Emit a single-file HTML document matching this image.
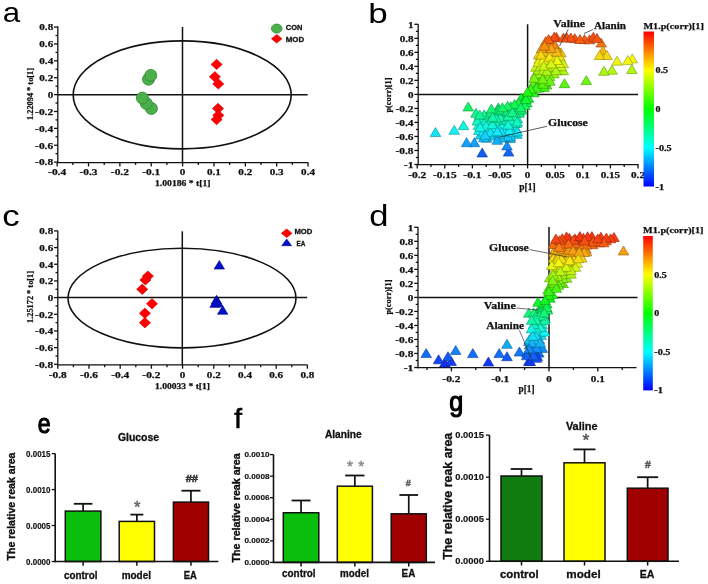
<!DOCTYPE html>
<html><head><meta charset="utf-8"><style>
html,body{margin:0;padding:0;background:#fff;width:708px;height:584px;overflow:hidden}
svg{display:block;filter:blur(0.5px)}
</style></head><body>
<svg width="708" height="584" viewBox="0 0 708 584">
<rect width="708" height="584" fill="#fff"/>
<text transform="translate(2.84,22.34) scale(1.097,1)" x="0" y="0" style="font-family:'Liberation Sans',sans-serif;font-size:28.52px" fill="#000">a</text>
<line x1="57.80" y1="26.20" x2="57.80" y2="163.25" stroke="#111" stroke-width="1.3"/>
<line x1="57.15" y1="162.60" x2="308.20" y2="162.60" stroke="#111" stroke-width="1.3"/>
<line x1="54.00" y1="162.12" x2="57.80" y2="162.12" stroke="#111" stroke-width="1.3"/>
<text x="44.17" y="165.42" style="font-family:'Liberation Serif',serif;font-weight:bold;stroke:#111;stroke-width:0.25px;font-size:8.8px" text-anchor="middle" fill="#111" textLength="18.06" lengthAdjust="spacingAndGlyphs" >-0.8</text>
<line x1="54.00" y1="145.24" x2="57.80" y2="145.24" stroke="#111" stroke-width="1.3"/>
<text x="44.17" y="148.54" style="font-family:'Liberation Serif',serif;font-weight:bold;stroke:#111;stroke-width:0.25px;font-size:8.8px" text-anchor="middle" fill="#111" textLength="18.06" lengthAdjust="spacingAndGlyphs" >-0.6</text>
<line x1="54.00" y1="128.36" x2="57.80" y2="128.36" stroke="#111" stroke-width="1.3"/>
<text x="44.17" y="131.66" style="font-family:'Liberation Serif',serif;font-weight:bold;stroke:#111;stroke-width:0.25px;font-size:8.8px" text-anchor="middle" fill="#111" textLength="18.06" lengthAdjust="spacingAndGlyphs" >-0.4</text>
<line x1="54.00" y1="111.48" x2="57.80" y2="111.48" stroke="#111" stroke-width="1.3"/>
<text x="44.17" y="114.78" style="font-family:'Liberation Serif',serif;font-weight:bold;stroke:#111;stroke-width:0.25px;font-size:8.8px" text-anchor="middle" fill="#111" textLength="18.06" lengthAdjust="spacingAndGlyphs" >-0.2</text>
<line x1="54.00" y1="94.60" x2="57.80" y2="94.60" stroke="#111" stroke-width="1.3"/>
<text x="50.42" y="97.90" style="font-family:'Liberation Serif',serif;font-weight:bold;stroke:#111;stroke-width:0.25px;font-size:8.8px" text-anchor="middle" fill="#111" textLength="5.55" lengthAdjust="spacingAndGlyphs" >0</text>
<line x1="54.00" y1="77.72" x2="57.80" y2="77.72" stroke="#111" stroke-width="1.3"/>
<text x="46.25" y="81.02" style="font-family:'Liberation Serif',serif;font-weight:bold;stroke:#111;stroke-width:0.25px;font-size:8.8px" text-anchor="middle" fill="#111" textLength="13.90" lengthAdjust="spacingAndGlyphs" >0.2</text>
<line x1="54.00" y1="60.84" x2="57.80" y2="60.84" stroke="#111" stroke-width="1.3"/>
<text x="46.25" y="64.14" style="font-family:'Liberation Serif',serif;font-weight:bold;stroke:#111;stroke-width:0.25px;font-size:8.8px" text-anchor="middle" fill="#111" textLength="13.90" lengthAdjust="spacingAndGlyphs" >0.4</text>
<line x1="54.00" y1="43.96" x2="57.80" y2="43.96" stroke="#111" stroke-width="1.3"/>
<text x="46.25" y="47.26" style="font-family:'Liberation Serif',serif;font-weight:bold;stroke:#111;stroke-width:0.25px;font-size:8.8px" text-anchor="middle" fill="#111" textLength="13.90" lengthAdjust="spacingAndGlyphs" >0.6</text>
<line x1="54.00" y1="27.08" x2="57.80" y2="27.08" stroke="#111" stroke-width="1.3"/>
<text x="46.25" y="30.38" style="font-family:'Liberation Serif',serif;font-weight:bold;stroke:#111;stroke-width:0.25px;font-size:8.8px" text-anchor="middle" fill="#111" textLength="13.90" lengthAdjust="spacingAndGlyphs" >0.8</text>
<line x1="55.50" y1="153.68" x2="57.80" y2="153.68" stroke="#111" stroke-width="1.3"/>
<line x1="55.50" y1="136.80" x2="57.80" y2="136.80" stroke="#111" stroke-width="1.3"/>
<line x1="55.50" y1="119.92" x2="57.80" y2="119.92" stroke="#111" stroke-width="1.3"/>
<line x1="55.50" y1="103.04" x2="57.80" y2="103.04" stroke="#111" stroke-width="1.3"/>
<line x1="55.50" y1="86.16" x2="57.80" y2="86.16" stroke="#111" stroke-width="1.3"/>
<line x1="55.50" y1="69.28" x2="57.80" y2="69.28" stroke="#111" stroke-width="1.3"/>
<line x1="55.50" y1="52.40" x2="57.80" y2="52.40" stroke="#111" stroke-width="1.3"/>
<line x1="55.50" y1="35.52" x2="57.80" y2="35.52" stroke="#111" stroke-width="1.3"/>
<line x1="57.16" y1="162.60" x2="57.16" y2="166.40" stroke="#111" stroke-width="1.3"/>
<text x="57.16" y="175.00" style="font-family:'Liberation Serif',serif;font-weight:bold;stroke:#111;stroke-width:0.25px;font-size:8.8px" text-anchor="middle" fill="#111" textLength="18.06" lengthAdjust="spacingAndGlyphs" >-0.4</text>
<line x1="88.52" y1="162.60" x2="88.52" y2="166.40" stroke="#111" stroke-width="1.3"/>
<text x="88.52" y="175.00" style="font-family:'Liberation Serif',serif;font-weight:bold;stroke:#111;stroke-width:0.25px;font-size:8.8px" text-anchor="middle" fill="#111" textLength="18.06" lengthAdjust="spacingAndGlyphs" >-0.3</text>
<line x1="119.88" y1="162.60" x2="119.88" y2="166.40" stroke="#111" stroke-width="1.3"/>
<text x="119.88" y="175.00" style="font-family:'Liberation Serif',serif;font-weight:bold;stroke:#111;stroke-width:0.25px;font-size:8.8px" text-anchor="middle" fill="#111" textLength="18.06" lengthAdjust="spacingAndGlyphs" >-0.2</text>
<line x1="151.24" y1="162.60" x2="151.24" y2="166.40" stroke="#111" stroke-width="1.3"/>
<text x="151.24" y="175.00" style="font-family:'Liberation Serif',serif;font-weight:bold;stroke:#111;stroke-width:0.25px;font-size:8.8px" text-anchor="middle" fill="#111" textLength="18.06" lengthAdjust="spacingAndGlyphs" >-0.1</text>
<line x1="182.60" y1="162.60" x2="182.60" y2="166.40" stroke="#111" stroke-width="1.3"/>
<text x="182.60" y="175.00" style="font-family:'Liberation Serif',serif;font-weight:bold;stroke:#111;stroke-width:0.25px;font-size:8.8px" text-anchor="middle" fill="#111" textLength="5.55" lengthAdjust="spacingAndGlyphs" >0</text>
<line x1="213.96" y1="162.60" x2="213.96" y2="166.40" stroke="#111" stroke-width="1.3"/>
<text x="213.96" y="175.00" style="font-family:'Liberation Serif',serif;font-weight:bold;stroke:#111;stroke-width:0.25px;font-size:8.8px" text-anchor="middle" fill="#111" textLength="13.90" lengthAdjust="spacingAndGlyphs" >0.1</text>
<line x1="245.32" y1="162.60" x2="245.32" y2="166.40" stroke="#111" stroke-width="1.3"/>
<text x="245.32" y="175.00" style="font-family:'Liberation Serif',serif;font-weight:bold;stroke:#111;stroke-width:0.25px;font-size:8.8px" text-anchor="middle" fill="#111" textLength="13.90" lengthAdjust="spacingAndGlyphs" >0.2</text>
<line x1="276.68" y1="162.60" x2="276.68" y2="166.40" stroke="#111" stroke-width="1.3"/>
<text x="276.68" y="175.00" style="font-family:'Liberation Serif',serif;font-weight:bold;stroke:#111;stroke-width:0.25px;font-size:8.8px" text-anchor="middle" fill="#111" textLength="13.90" lengthAdjust="spacingAndGlyphs" >0.3</text>
<line x1="308.04" y1="162.60" x2="308.04" y2="166.40" stroke="#111" stroke-width="1.3"/>
<text x="308.04" y="175.00" style="font-family:'Liberation Serif',serif;font-weight:bold;stroke:#111;stroke-width:0.25px;font-size:8.8px" text-anchor="middle" fill="#111" textLength="13.90" lengthAdjust="spacingAndGlyphs" >0.4</text>
<line x1="72.84" y1="162.60" x2="72.84" y2="164.90" stroke="#111" stroke-width="1.3"/>
<line x1="104.20" y1="162.60" x2="104.20" y2="164.90" stroke="#111" stroke-width="1.3"/>
<line x1="135.56" y1="162.60" x2="135.56" y2="164.90" stroke="#111" stroke-width="1.3"/>
<line x1="166.92" y1="162.60" x2="166.92" y2="164.90" stroke="#111" stroke-width="1.3"/>
<line x1="198.28" y1="162.60" x2="198.28" y2="164.90" stroke="#111" stroke-width="1.3"/>
<line x1="229.64" y1="162.60" x2="229.64" y2="164.90" stroke="#111" stroke-width="1.3"/>
<line x1="261.00" y1="162.60" x2="261.00" y2="164.90" stroke="#111" stroke-width="1.3"/>
<line x1="292.36" y1="162.60" x2="292.36" y2="164.90" stroke="#111" stroke-width="1.3"/>
<text x="182.80" y="186.40" style="font-family:'Liberation Serif',serif;font-weight:bold;stroke:#111;stroke-width:0.25px;font-size:8.5px" text-anchor="middle" fill="#111" textLength="55.60" lengthAdjust="spacingAndGlyphs" >1.00186 * t[1]</text>
<text transform="translate(30.40,94.00) rotate(-90)" x="0" y="0" style="font-family:'Liberation Serif',serif;font-weight:bold;stroke:#111;stroke-width:0.25px;font-size:8.5px" text-anchor="middle" dominant-baseline="central" fill="#111" textLength="52.00" lengthAdjust="spacingAndGlyphs">1.22094 * to[1]</text>
<line x1="57.80" y1="94.70" x2="307.70" y2="94.70" stroke="#111" stroke-width="1.5"/>
<line x1="182.50" y1="27.00" x2="182.50" y2="162.60" stroke="#111" stroke-width="1.5"/>
<ellipse cx="182.2" cy="94.9" rx="109" ry="54" fill="none" stroke="#111" stroke-width="1.6"/>
<circle cx="151.40" cy="108.50" r="6" fill="#4bb04b" stroke="#2f8a2f" stroke-width="0.8"/>
<circle cx="146.30" cy="103.40" r="6" fill="#4bb04b" stroke="#2f8a2f" stroke-width="0.8"/>
<circle cx="142.40" cy="98.00" r="6" fill="#4bb04b" stroke="#2f8a2f" stroke-width="0.8"/>
<circle cx="148.50" cy="79.20" r="6" fill="#4bb04b" stroke="#2f8a2f" stroke-width="0.8"/>
<circle cx="150.80" cy="75.40" r="6" fill="#4bb04b" stroke="#2f8a2f" stroke-width="0.8"/>
<polygon points="216.60,59.20 222.20,64.40 216.60,69.60 211.00,64.40" fill="#f00" stroke="#c00" stroke-width="0.6"/>
<polygon points="214.90,71.60 220.50,76.80 214.90,82.00 209.30,76.80" fill="#f00" stroke="#c00" stroke-width="0.6"/>
<polygon points="218.30,78.70 223.90,83.90 218.30,89.10 212.70,83.90" fill="#f00" stroke="#c00" stroke-width="0.6"/>
<polygon points="218.00,103.30 223.60,108.50 218.00,113.70 212.40,108.50" fill="#f00" stroke="#c00" stroke-width="0.6"/>
<polygon points="218.30,110.10 223.90,115.30 218.30,120.50 212.70,115.30" fill="#f00" stroke="#c00" stroke-width="0.6"/>
<polygon points="216.60,114.30 222.20,119.50 216.60,124.70 211.00,119.50" fill="#f00" stroke="#c00" stroke-width="0.6"/>
<ellipse cx="276.7" cy="28.6" rx="5.3" ry="4.5" fill="#4bb04b" stroke="#2f8a2f" stroke-width="0.8"/>
<polygon points="276.70,34.50 282.00,38.80 276.70,43.10 271.40,38.80" fill="#f00" stroke="#c00" stroke-width="0.6"/>
<text x="294.10" y="30.20" style="font-family:'Liberation Sans',sans-serif;font-weight:bold;stroke:#111;stroke-width:0.3px;font-size:7.8px" text-anchor="middle" fill="#111" textLength="16.60" lengthAdjust="spacingAndGlyphs" >CON</text>
<text x="295.00" y="41.50" style="font-family:'Liberation Sans',sans-serif;font-weight:bold;stroke:#111;stroke-width:0.3px;font-size:7.8px" text-anchor="middle" fill="#111" textLength="18.40" lengthAdjust="spacingAndGlyphs" >MOD</text>
<text transform="translate(2.14,225.74) scale(1.182,1)" x="0" y="0" style="font-family:'Liberation Sans',sans-serif;font-size:29.43px" fill="#000">c</text>
<line x1="57.80" y1="230.70" x2="57.80" y2="365.55" stroke="#111" stroke-width="1.3"/>
<line x1="57.15" y1="364.90" x2="307.50" y2="364.90" stroke="#111" stroke-width="1.3"/>
<line x1="54.00" y1="364.32" x2="57.80" y2="364.32" stroke="#111" stroke-width="1.3"/>
<text x="44.17" y="367.62" style="font-family:'Liberation Serif',serif;font-weight:bold;stroke:#111;stroke-width:0.25px;font-size:8.8px" text-anchor="middle" fill="#111" textLength="18.06" lengthAdjust="spacingAndGlyphs" >-0.8</text>
<line x1="54.00" y1="347.64" x2="57.80" y2="347.64" stroke="#111" stroke-width="1.3"/>
<text x="44.17" y="350.94" style="font-family:'Liberation Serif',serif;font-weight:bold;stroke:#111;stroke-width:0.25px;font-size:8.8px" text-anchor="middle" fill="#111" textLength="18.06" lengthAdjust="spacingAndGlyphs" >-0.6</text>
<line x1="54.00" y1="330.96" x2="57.80" y2="330.96" stroke="#111" stroke-width="1.3"/>
<text x="44.17" y="334.26" style="font-family:'Liberation Serif',serif;font-weight:bold;stroke:#111;stroke-width:0.25px;font-size:8.8px" text-anchor="middle" fill="#111" textLength="18.06" lengthAdjust="spacingAndGlyphs" >-0.4</text>
<line x1="54.00" y1="314.28" x2="57.80" y2="314.28" stroke="#111" stroke-width="1.3"/>
<text x="44.17" y="317.58" style="font-family:'Liberation Serif',serif;font-weight:bold;stroke:#111;stroke-width:0.25px;font-size:8.8px" text-anchor="middle" fill="#111" textLength="18.06" lengthAdjust="spacingAndGlyphs" >-0.2</text>
<line x1="54.00" y1="297.60" x2="57.80" y2="297.60" stroke="#111" stroke-width="1.3"/>
<text x="50.42" y="300.90" style="font-family:'Liberation Serif',serif;font-weight:bold;stroke:#111;stroke-width:0.25px;font-size:8.8px" text-anchor="middle" fill="#111" textLength="5.55" lengthAdjust="spacingAndGlyphs" >0</text>
<line x1="54.00" y1="280.92" x2="57.80" y2="280.92" stroke="#111" stroke-width="1.3"/>
<text x="46.25" y="284.22" style="font-family:'Liberation Serif',serif;font-weight:bold;stroke:#111;stroke-width:0.25px;font-size:8.8px" text-anchor="middle" fill="#111" textLength="13.90" lengthAdjust="spacingAndGlyphs" >0.2</text>
<line x1="54.00" y1="264.24" x2="57.80" y2="264.24" stroke="#111" stroke-width="1.3"/>
<text x="46.25" y="267.54" style="font-family:'Liberation Serif',serif;font-weight:bold;stroke:#111;stroke-width:0.25px;font-size:8.8px" text-anchor="middle" fill="#111" textLength="13.90" lengthAdjust="spacingAndGlyphs" >0.4</text>
<line x1="54.00" y1="247.56" x2="57.80" y2="247.56" stroke="#111" stroke-width="1.3"/>
<text x="46.25" y="250.86" style="font-family:'Liberation Serif',serif;font-weight:bold;stroke:#111;stroke-width:0.25px;font-size:8.8px" text-anchor="middle" fill="#111" textLength="13.90" lengthAdjust="spacingAndGlyphs" >0.6</text>
<line x1="54.00" y1="230.88" x2="57.80" y2="230.88" stroke="#111" stroke-width="1.3"/>
<text x="46.25" y="234.18" style="font-family:'Liberation Serif',serif;font-weight:bold;stroke:#111;stroke-width:0.25px;font-size:8.8px" text-anchor="middle" fill="#111" textLength="13.90" lengthAdjust="spacingAndGlyphs" >0.8</text>
<line x1="55.50" y1="355.98" x2="57.80" y2="355.98" stroke="#111" stroke-width="1.3"/>
<line x1="55.50" y1="339.30" x2="57.80" y2="339.30" stroke="#111" stroke-width="1.3"/>
<line x1="55.50" y1="322.62" x2="57.80" y2="322.62" stroke="#111" stroke-width="1.3"/>
<line x1="55.50" y1="305.94" x2="57.80" y2="305.94" stroke="#111" stroke-width="1.3"/>
<line x1="55.50" y1="289.26" x2="57.80" y2="289.26" stroke="#111" stroke-width="1.3"/>
<line x1="55.50" y1="272.58" x2="57.80" y2="272.58" stroke="#111" stroke-width="1.3"/>
<line x1="55.50" y1="255.90" x2="57.80" y2="255.90" stroke="#111" stroke-width="1.3"/>
<line x1="55.50" y1="239.22" x2="57.80" y2="239.22" stroke="#111" stroke-width="1.3"/>
<line x1="57.80" y1="364.90" x2="57.80" y2="368.70" stroke="#111" stroke-width="1.3"/>
<text x="57.80" y="377.90" style="font-family:'Liberation Serif',serif;font-weight:bold;stroke:#111;stroke-width:0.25px;font-size:8.8px" text-anchor="middle" fill="#111" textLength="18.06" lengthAdjust="spacingAndGlyphs" >-0.8</text>
<line x1="89.00" y1="364.90" x2="89.00" y2="368.70" stroke="#111" stroke-width="1.3"/>
<text x="89.00" y="377.90" style="font-family:'Liberation Serif',serif;font-weight:bold;stroke:#111;stroke-width:0.25px;font-size:8.8px" text-anchor="middle" fill="#111" textLength="18.06" lengthAdjust="spacingAndGlyphs" >-0.6</text>
<line x1="120.20" y1="364.90" x2="120.20" y2="368.70" stroke="#111" stroke-width="1.3"/>
<text x="120.20" y="377.90" style="font-family:'Liberation Serif',serif;font-weight:bold;stroke:#111;stroke-width:0.25px;font-size:8.8px" text-anchor="middle" fill="#111" textLength="18.06" lengthAdjust="spacingAndGlyphs" >-0.4</text>
<line x1="151.40" y1="364.90" x2="151.40" y2="368.70" stroke="#111" stroke-width="1.3"/>
<text x="151.40" y="377.90" style="font-family:'Liberation Serif',serif;font-weight:bold;stroke:#111;stroke-width:0.25px;font-size:8.8px" text-anchor="middle" fill="#111" textLength="18.06" lengthAdjust="spacingAndGlyphs" >-0.2</text>
<line x1="182.60" y1="364.90" x2="182.60" y2="368.70" stroke="#111" stroke-width="1.3"/>
<text x="182.60" y="377.90" style="font-family:'Liberation Serif',serif;font-weight:bold;stroke:#111;stroke-width:0.25px;font-size:8.8px" text-anchor="middle" fill="#111" textLength="5.55" lengthAdjust="spacingAndGlyphs" >0</text>
<line x1="213.80" y1="364.90" x2="213.80" y2="368.70" stroke="#111" stroke-width="1.3"/>
<text x="213.80" y="377.90" style="font-family:'Liberation Serif',serif;font-weight:bold;stroke:#111;stroke-width:0.25px;font-size:8.8px" text-anchor="middle" fill="#111" textLength="13.90" lengthAdjust="spacingAndGlyphs" >0.2</text>
<line x1="245.00" y1="364.90" x2="245.00" y2="368.70" stroke="#111" stroke-width="1.3"/>
<text x="245.00" y="377.90" style="font-family:'Liberation Serif',serif;font-weight:bold;stroke:#111;stroke-width:0.25px;font-size:8.8px" text-anchor="middle" fill="#111" textLength="13.90" lengthAdjust="spacingAndGlyphs" >0.4</text>
<line x1="276.20" y1="364.90" x2="276.20" y2="368.70" stroke="#111" stroke-width="1.3"/>
<text x="276.20" y="377.90" style="font-family:'Liberation Serif',serif;font-weight:bold;stroke:#111;stroke-width:0.25px;font-size:8.8px" text-anchor="middle" fill="#111" textLength="13.90" lengthAdjust="spacingAndGlyphs" >0.6</text>
<line x1="307.40" y1="364.90" x2="307.40" y2="368.70" stroke="#111" stroke-width="1.3"/>
<text x="307.40" y="377.90" style="font-family:'Liberation Serif',serif;font-weight:bold;stroke:#111;stroke-width:0.25px;font-size:8.8px" text-anchor="middle" fill="#111" textLength="13.90" lengthAdjust="spacingAndGlyphs" >0.8</text>
<line x1="73.40" y1="364.90" x2="73.40" y2="367.20" stroke="#111" stroke-width="1.3"/>
<line x1="104.60" y1="364.90" x2="104.60" y2="367.20" stroke="#111" stroke-width="1.3"/>
<line x1="135.80" y1="364.90" x2="135.80" y2="367.20" stroke="#111" stroke-width="1.3"/>
<line x1="167.00" y1="364.90" x2="167.00" y2="367.20" stroke="#111" stroke-width="1.3"/>
<line x1="198.20" y1="364.90" x2="198.20" y2="367.20" stroke="#111" stroke-width="1.3"/>
<line x1="229.40" y1="364.90" x2="229.40" y2="367.20" stroke="#111" stroke-width="1.3"/>
<line x1="260.60" y1="364.90" x2="260.60" y2="367.20" stroke="#111" stroke-width="1.3"/>
<line x1="291.80" y1="364.90" x2="291.80" y2="367.20" stroke="#111" stroke-width="1.3"/>
<text x="182.50" y="389.00" style="font-family:'Liberation Serif',serif;font-weight:bold;stroke:#111;stroke-width:0.25px;font-size:8.5px" text-anchor="middle" fill="#111" textLength="55.00" lengthAdjust="spacingAndGlyphs" >1.00033 * t[1]</text>
<text transform="translate(30.40,297.00) rotate(-90)" x="0" y="0" style="font-family:'Liberation Serif',serif;font-weight:bold;stroke:#111;stroke-width:0.25px;font-size:8.5px" text-anchor="middle" dominant-baseline="central" fill="#111" textLength="52.00" lengthAdjust="spacingAndGlyphs">1.25172 * to[1]</text>
<line x1="57.80" y1="297.60" x2="307.20" y2="297.60" stroke="#111" stroke-width="1.5"/>
<line x1="182.30" y1="231.30" x2="182.30" y2="365.20" stroke="#111" stroke-width="1.5"/>
<ellipse cx="182" cy="298.1" rx="114" ry="49.8" fill="none" stroke="#111" stroke-width="1.6"/>
<polygon points="147.90,270.90 153.50,276.10 147.90,281.30 142.30,276.10" fill="#f00" stroke="#c00" stroke-width="0.6"/>
<polygon points="145.40,274.70 151.00,279.90 145.40,285.10 139.80,279.90" fill="#f00" stroke="#c00" stroke-width="0.6"/>
<polygon points="142.20,284.10 147.80,289.30 142.20,294.50 136.60,289.30" fill="#f00" stroke="#c00" stroke-width="0.6"/>
<polygon points="152.00,298.60 157.60,303.80 152.00,309.00 146.40,303.80" fill="#f00" stroke="#c00" stroke-width="0.6"/>
<polygon points="144.90,308.10 150.50,313.30 144.90,318.50 139.30,313.30" fill="#f00" stroke="#c00" stroke-width="0.6"/>
<polygon points="144.90,317.50 150.50,322.70 144.90,327.90 139.30,322.70" fill="#f00" stroke="#c00" stroke-width="0.6"/>
<polygon points="219.30,260.47 224.50,269.07 214.10,269.07" fill="#0010c8" stroke="#000080" stroke-width="0.6"/>
<polygon points="216.50,295.27 221.70,303.87 211.30,303.87" fill="#0010c8" stroke="#000080" stroke-width="0.6"/>
<polygon points="218.00,298.27 223.20,306.87 212.80,306.87" fill="#0010c8" stroke="#000080" stroke-width="0.6"/>
<polygon points="215.00,298.77 220.20,307.37 209.80,307.37" fill="#0010c8" stroke="#000080" stroke-width="0.6"/>
<polygon points="222.70,305.67 227.90,314.27 217.50,314.27" fill="#0010c8" stroke="#000080" stroke-width="0.6"/>
<polygon points="286.70,229.00 292.00,233.30 286.70,237.60 281.40,233.30" fill="#f00" stroke="#c00" stroke-width="0.6"/>
<polygon points="286.7,239 291.6,245.7 281.7,245.7" fill="#0010c8" stroke="#000080" stroke-width="0.6"/>
<text x="303.40" y="233.50" style="font-family:'Liberation Sans',sans-serif;font-weight:bold;stroke:#111;stroke-width:0.3px;font-size:7.8px" text-anchor="middle" fill="#111" textLength="18.00" lengthAdjust="spacingAndGlyphs" >MOD</text>
<text x="300.95" y="245.90" style="font-family:'Liberation Sans',sans-serif;font-weight:bold;stroke:#111;stroke-width:0.3px;font-size:7.8px" text-anchor="middle" fill="#111" textLength="8.90" lengthAdjust="spacingAndGlyphs" >EA</text>
<text transform="translate(368.32,23.14) scale(1.237,1)" x="0" y="0" style="font-family:'Liberation Sans',sans-serif;font-size:28.34px" fill="#000">b</text>
<line x1="418.20" y1="24.30" x2="418.20" y2="165.25" stroke="#111" stroke-width="1.3"/>
<line x1="417.55" y1="164.60" x2="638.50" y2="164.60" stroke="#111" stroke-width="1.3"/>
<line x1="414.40" y1="164.50" x2="418.20" y2="164.50" stroke="#111" stroke-width="1.3"/>
<text x="408.74" y="167.80" style="font-family:'Liberation Serif',serif;font-weight:bold;stroke:#111;stroke-width:0.25px;font-size:8.8px" text-anchor="middle" fill="#111" textLength="9.71" lengthAdjust="spacingAndGlyphs" >-1</text>
<line x1="414.40" y1="150.48" x2="418.20" y2="150.48" stroke="#111" stroke-width="1.3"/>
<text x="404.57" y="153.78" style="font-family:'Liberation Serif',serif;font-weight:bold;stroke:#111;stroke-width:0.25px;font-size:8.8px" text-anchor="middle" fill="#111" textLength="18.06" lengthAdjust="spacingAndGlyphs" >-0.8</text>
<line x1="414.40" y1="136.46" x2="418.20" y2="136.46" stroke="#111" stroke-width="1.3"/>
<text x="404.57" y="139.76" style="font-family:'Liberation Serif',serif;font-weight:bold;stroke:#111;stroke-width:0.25px;font-size:8.8px" text-anchor="middle" fill="#111" textLength="18.06" lengthAdjust="spacingAndGlyphs" >-0.6</text>
<line x1="414.40" y1="122.44" x2="418.20" y2="122.44" stroke="#111" stroke-width="1.3"/>
<text x="404.57" y="125.74" style="font-family:'Liberation Serif',serif;font-weight:bold;stroke:#111;stroke-width:0.25px;font-size:8.8px" text-anchor="middle" fill="#111" textLength="18.06" lengthAdjust="spacingAndGlyphs" >-0.4</text>
<line x1="414.40" y1="108.42" x2="418.20" y2="108.42" stroke="#111" stroke-width="1.3"/>
<text x="404.57" y="111.72" style="font-family:'Liberation Serif',serif;font-weight:bold;stroke:#111;stroke-width:0.25px;font-size:8.8px" text-anchor="middle" fill="#111" textLength="18.06" lengthAdjust="spacingAndGlyphs" >-0.2</text>
<line x1="414.40" y1="94.40" x2="418.20" y2="94.40" stroke="#111" stroke-width="1.3"/>
<text x="410.82" y="97.70" style="font-family:'Liberation Serif',serif;font-weight:bold;stroke:#111;stroke-width:0.25px;font-size:8.8px" text-anchor="middle" fill="#111" textLength="5.55" lengthAdjust="spacingAndGlyphs" >0</text>
<line x1="414.40" y1="80.38" x2="418.20" y2="80.38" stroke="#111" stroke-width="1.3"/>
<text x="406.65" y="83.68" style="font-family:'Liberation Serif',serif;font-weight:bold;stroke:#111;stroke-width:0.25px;font-size:8.8px" text-anchor="middle" fill="#111" textLength="13.90" lengthAdjust="spacingAndGlyphs" >0.2</text>
<line x1="414.40" y1="66.36" x2="418.20" y2="66.36" stroke="#111" stroke-width="1.3"/>
<text x="406.65" y="69.66" style="font-family:'Liberation Serif',serif;font-weight:bold;stroke:#111;stroke-width:0.25px;font-size:8.8px" text-anchor="middle" fill="#111" textLength="13.90" lengthAdjust="spacingAndGlyphs" >0.4</text>
<line x1="414.40" y1="52.34" x2="418.20" y2="52.34" stroke="#111" stroke-width="1.3"/>
<text x="406.65" y="55.64" style="font-family:'Liberation Serif',serif;font-weight:bold;stroke:#111;stroke-width:0.25px;font-size:8.8px" text-anchor="middle" fill="#111" textLength="13.90" lengthAdjust="spacingAndGlyphs" >0.6</text>
<line x1="414.40" y1="38.32" x2="418.20" y2="38.32" stroke="#111" stroke-width="1.3"/>
<text x="406.65" y="41.62" style="font-family:'Liberation Serif',serif;font-weight:bold;stroke:#111;stroke-width:0.25px;font-size:8.8px" text-anchor="middle" fill="#111" textLength="13.90" lengthAdjust="spacingAndGlyphs" >0.8</text>
<line x1="414.40" y1="24.30" x2="418.20" y2="24.30" stroke="#111" stroke-width="1.3"/>
<text x="410.82" y="27.60" style="font-family:'Liberation Serif',serif;font-weight:bold;stroke:#111;stroke-width:0.25px;font-size:8.8px" text-anchor="middle" fill="#111" textLength="5.55" lengthAdjust="spacingAndGlyphs" >1</text>
<line x1="415.90" y1="157.49" x2="418.20" y2="157.49" stroke="#111" stroke-width="1.3"/>
<line x1="415.90" y1="143.47" x2="418.20" y2="143.47" stroke="#111" stroke-width="1.3"/>
<line x1="415.90" y1="129.45" x2="418.20" y2="129.45" stroke="#111" stroke-width="1.3"/>
<line x1="415.90" y1="115.43" x2="418.20" y2="115.43" stroke="#111" stroke-width="1.3"/>
<line x1="415.90" y1="101.41" x2="418.20" y2="101.41" stroke="#111" stroke-width="1.3"/>
<line x1="415.90" y1="87.39" x2="418.20" y2="87.39" stroke="#111" stroke-width="1.3"/>
<line x1="415.90" y1="73.37" x2="418.20" y2="73.37" stroke="#111" stroke-width="1.3"/>
<line x1="415.90" y1="59.35" x2="418.20" y2="59.35" stroke="#111" stroke-width="1.3"/>
<line x1="415.90" y1="45.33" x2="418.20" y2="45.33" stroke="#111" stroke-width="1.3"/>
<line x1="415.90" y1="31.31" x2="418.20" y2="31.31" stroke="#111" stroke-width="1.3"/>
<line x1="417.20" y1="164.60" x2="417.20" y2="168.40" stroke="#111" stroke-width="1.3"/>
<text x="417.20" y="178.40" style="font-family:'Liberation Serif',serif;font-weight:bold;stroke:#111;stroke-width:0.25px;font-size:8.8px" text-anchor="middle" fill="#111" textLength="18.06" lengthAdjust="spacingAndGlyphs" >-0.2</text>
<line x1="444.80" y1="164.60" x2="444.80" y2="168.40" stroke="#111" stroke-width="1.3"/>
<text x="444.80" y="178.40" style="font-family:'Liberation Serif',serif;font-weight:bold;stroke:#111;stroke-width:0.25px;font-size:8.8px" text-anchor="middle" fill="#111" textLength="23.61" lengthAdjust="spacingAndGlyphs" >-0.15</text>
<line x1="472.40" y1="164.60" x2="472.40" y2="168.40" stroke="#111" stroke-width="1.3"/>
<text x="472.40" y="178.40" style="font-family:'Liberation Serif',serif;font-weight:bold;stroke:#111;stroke-width:0.25px;font-size:8.8px" text-anchor="middle" fill="#111" textLength="18.06" lengthAdjust="spacingAndGlyphs" >-0.1</text>
<line x1="500.00" y1="164.60" x2="500.00" y2="168.40" stroke="#111" stroke-width="1.3"/>
<text x="500.00" y="178.40" style="font-family:'Liberation Serif',serif;font-weight:bold;stroke:#111;stroke-width:0.25px;font-size:8.8px" text-anchor="middle" fill="#111" textLength="23.61" lengthAdjust="spacingAndGlyphs" >-0.05</text>
<line x1="527.60" y1="164.60" x2="527.60" y2="168.40" stroke="#111" stroke-width="1.3"/>
<text x="527.60" y="178.40" style="font-family:'Liberation Serif',serif;font-weight:bold;stroke:#111;stroke-width:0.25px;font-size:8.8px" text-anchor="middle" fill="#111" textLength="5.55" lengthAdjust="spacingAndGlyphs" >0</text>
<line x1="555.20" y1="164.60" x2="555.20" y2="168.40" stroke="#111" stroke-width="1.3"/>
<text x="555.20" y="178.40" style="font-family:'Liberation Serif',serif;font-weight:bold;stroke:#111;stroke-width:0.25px;font-size:8.8px" text-anchor="middle" fill="#111" textLength="19.45" lengthAdjust="spacingAndGlyphs" >0.05</text>
<line x1="582.80" y1="164.60" x2="582.80" y2="168.40" stroke="#111" stroke-width="1.3"/>
<text x="582.80" y="178.40" style="font-family:'Liberation Serif',serif;font-weight:bold;stroke:#111;stroke-width:0.25px;font-size:8.8px" text-anchor="middle" fill="#111" textLength="13.90" lengthAdjust="spacingAndGlyphs" >0.1</text>
<line x1="610.40" y1="164.60" x2="610.40" y2="168.40" stroke="#111" stroke-width="1.3"/>
<text x="610.40" y="178.40" style="font-family:'Liberation Serif',serif;font-weight:bold;stroke:#111;stroke-width:0.25px;font-size:8.8px" text-anchor="middle" fill="#111" textLength="19.45" lengthAdjust="spacingAndGlyphs" >0.15</text>
<line x1="638.00" y1="164.60" x2="638.00" y2="168.40" stroke="#111" stroke-width="1.3"/>
<text x="638.00" y="178.40" style="font-family:'Liberation Serif',serif;font-weight:bold;stroke:#111;stroke-width:0.25px;font-size:8.8px" text-anchor="middle" fill="#111" textLength="13.90" lengthAdjust="spacingAndGlyphs" >0.2</text>
<line x1="431.00" y1="164.60" x2="431.00" y2="166.90" stroke="#111" stroke-width="1.3"/>
<line x1="458.60" y1="164.60" x2="458.60" y2="166.90" stroke="#111" stroke-width="1.3"/>
<line x1="486.20" y1="164.60" x2="486.20" y2="166.90" stroke="#111" stroke-width="1.3"/>
<line x1="513.80" y1="164.60" x2="513.80" y2="166.90" stroke="#111" stroke-width="1.3"/>
<line x1="541.40" y1="164.60" x2="541.40" y2="166.90" stroke="#111" stroke-width="1.3"/>
<line x1="569.00" y1="164.60" x2="569.00" y2="166.90" stroke="#111" stroke-width="1.3"/>
<line x1="596.60" y1="164.60" x2="596.60" y2="166.90" stroke="#111" stroke-width="1.3"/>
<line x1="624.20" y1="164.60" x2="624.20" y2="166.90" stroke="#111" stroke-width="1.3"/>
<text x="527.45" y="189.50" style="font-family:'Liberation Serif',serif;font-weight:bold;stroke:#111;stroke-width:0.25px;font-size:10px" text-anchor="middle" fill="#111" textLength="16.30" lengthAdjust="spacingAndGlyphs" >p[1]</text>
<text transform="translate(388.00,95.00) rotate(-90)" x="0" y="0" style="font-family:'Liberation Serif',serif;font-weight:bold;stroke:#111;stroke-width:0.25px;font-size:9px" text-anchor="middle" dominant-baseline="central" fill="#111" textLength="35.00" lengthAdjust="spacingAndGlyphs">p(corr)[1]</text>
<line x1="418.20" y1="94.40" x2="638.00" y2="94.40" stroke="#111" stroke-width="1.5"/>
<line x1="527.60" y1="24.30" x2="527.60" y2="164.50" stroke="#111" stroke-width="1.5"/>
<polygon points="553.8,56.3 559.1,65.3 548.5,65.3" fill="#eaf713" stroke="#919907" stroke-width="0.6"/>
<polygon points="601.2,38.1 606.5,47.1 595.9,47.1" fill="#f77813" stroke="#994807" stroke-width="0.6"/>
<polygon points="500.5,120.2 505.8,129.2 495.2,129.2" fill="#13f7db" stroke="#079987" stroke-width="0.6"/>
<polygon points="559.9,65.6 565.2,74.6 554.6,74.6" fill="#aef713" stroke="#6a9907" stroke-width="0.6"/>
<polygon points="483.5,112.8 488.8,121.8 478.2,121.8" fill="#13f7ab" stroke="#079968" stroke-width="0.6"/>
<polygon points="545.8,42.8 551.1,51.8 540.5,51.8" fill="#f79d13" stroke="#995f07" stroke-width="0.6"/>
<polygon points="496.7,118.6 502.0,127.6 491.4,127.6" fill="#13f7d1" stroke="#079980" stroke-width="0.6"/>
<polygon points="505.0,113.5 510.3,122.5 499.7,122.5" fill="#13f7b0" stroke="#07996b" stroke-width="0.6"/>
<polygon points="476.0,108.3 481.3,117.3 470.7,117.3" fill="#13f78e" stroke="#079956" stroke-width="0.6"/>
<polygon points="486.5,133.2 491.8,142.2 481.2,142.2" fill="#13bef7" stroke="#077499" stroke-width="0.6"/>
<polygon points="631.8,64.6 637.1,73.6 626.5,73.6" fill="#b4f713" stroke="#6e9907" stroke-width="0.6"/>
<polygon points="497.3,108.0 502.6,117.0 492.0,117.0" fill="#13f78c" stroke="#079954" stroke-width="0.6"/>
<polygon points="505.1,118.7 510.4,127.7 499.8,127.7" fill="#13f7d1" stroke="#079981" stroke-width="0.6"/>
<polygon points="510.4,133.4 515.7,142.4 505.1,142.4" fill="#13bdf7" stroke="#077399" stroke-width="0.6"/>
<polygon points="488.5,130.2 493.8,139.2 483.2,139.2" fill="#13d2f7" stroke="#078199" stroke-width="0.6"/>
<polygon points="558.3,61.7 563.6,70.7 553.0,70.7" fill="#c7f713" stroke="#7a9907" stroke-width="0.6"/>
<polygon points="517.4,113.7 522.7,122.7 512.1,122.7" fill="#13f7b1" stroke="#07996c" stroke-width="0.6"/>
<polygon points="536.1,75.3 541.4,84.3 530.8,84.3" fill="#6ff713" stroke="#429907" stroke-width="0.6"/>
<polygon points="463.5,120.7 468.8,129.7 458.2,129.7" fill="#13f7df" stroke="#079989" stroke-width="0.6"/>
<polygon points="537.3,71.7 542.6,80.7 532.0,80.7" fill="#86f713" stroke="#519907" stroke-width="0.6"/>
<polygon points="551.3,35.9 556.6,44.9 546.0,44.9" fill="#f76713" stroke="#993d07" stroke-width="0.6"/>
<polygon points="560.9,47.9 566.2,56.9 555.6,56.9" fill="#f7c413" stroke="#997807" stroke-width="0.6"/>
<polygon points="480.5,130.1 485.8,139.1 475.2,139.1" fill="#13d2f7" stroke="#078199" stroke-width="0.6"/>
<polygon points="517.0,129.4 522.3,138.4 511.7,138.4" fill="#13d7f7" stroke="#078499" stroke-width="0.6"/>
<polygon points="508.6,147.1 513.9,156.1 503.3,156.1" fill="#1364f7" stroke="#073b99" stroke-width="0.6"/>
<polygon points="507.9,123.3 513.2,132.3 502.6,132.3" fill="#13f7ef" stroke="#079994" stroke-width="0.6"/>
<polygon points="521.3,93.1 526.6,102.1 516.0,102.1" fill="#13f72c" stroke="#079917" stroke-width="0.6"/>
<polygon points="545.2,69.0 550.5,78.0 539.9,78.0" fill="#98f713" stroke="#5c9907" stroke-width="0.6"/>
<polygon points="519.2,106.3 524.5,115.3 513.9,115.3" fill="#13f781" stroke="#07994d" stroke-width="0.6"/>
<polygon points="484.3,115.5 489.6,124.5 479.0,124.5" fill="#13f7bd" stroke="#079974" stroke-width="0.6"/>
<polygon points="535.4,69.7 540.7,78.7 530.1,78.7" fill="#93f713" stroke="#599907" stroke-width="0.6"/>
<polygon points="507.2,116.1 512.5,125.1 501.9,125.1" fill="#13f7c1" stroke="#079976" stroke-width="0.6"/>
<polygon points="495.0,108.6 500.3,117.6 489.7,117.6" fill="#13f790" stroke="#079957" stroke-width="0.6"/>
<polygon points="501.2,108.9 506.5,117.9 495.9,117.9" fill="#13f792" stroke="#079958" stroke-width="0.6"/>
<polygon points="533.8,87.8 539.1,96.8 528.5,96.8" fill="#1ef713" stroke="#0e9907" stroke-width="0.6"/>
<polygon points="468.2,102.0 473.5,111.0 462.9,111.0" fill="#13f765" stroke="#07993b" stroke-width="0.6"/>
<polygon points="519.2,108.2 524.5,117.2 513.9,117.2" fill="#13f78d" stroke="#079955" stroke-width="0.6"/>
<polygon points="549.5,66.5 554.8,75.5 544.2,75.5" fill="#a8f713" stroke="#669907" stroke-width="0.6"/>
<polygon points="485.2,122.6 490.5,131.6 479.9,131.6" fill="#13f7eb" stroke="#079991" stroke-width="0.6"/>
<polygon points="547.7,50.3 553.0,59.3 542.4,59.3" fill="#f7d813" stroke="#998507" stroke-width="0.6"/>
<polygon points="546.9,71.4 552.2,80.4 541.6,80.4" fill="#88f713" stroke="#529907" stroke-width="0.6"/>
<polygon points="513.5,105.1 518.8,114.1 508.2,114.1" fill="#13f779" stroke="#079948" stroke-width="0.6"/>
<polygon points="523.2,96.9 528.5,105.9 517.9,105.9" fill="#13f744" stroke="#079926" stroke-width="0.6"/>
<polygon points="515.5,101.3 520.8,110.3 510.2,110.3" fill="#13f761" stroke="#079939" stroke-width="0.6"/>
<polygon points="553.9,68.9 559.2,77.9 548.6,77.9" fill="#98f713" stroke="#5c9907" stroke-width="0.6"/>
<polygon points="561.7,56.0 567.0,65.0 556.4,65.0" fill="#ecf713" stroke="#929907" stroke-width="0.6"/>
<polygon points="526.4,90.9 531.7,99.9 521.1,99.9" fill="#13f71d" stroke="#07990e" stroke-width="0.6"/>
<polygon points="584.5,34.6 589.8,43.6 579.2,43.6" fill="#f75d13" stroke="#993607" stroke-width="0.6"/>
<polygon points="510.8,101.7 516.1,110.7 505.5,110.7" fill="#13f763" stroke="#07993a" stroke-width="0.6"/>
<polygon points="548.4,48.1 553.7,57.1 543.1,57.1" fill="#f7c613" stroke="#997a07" stroke-width="0.6"/>
<polygon points="507.9,103.8 513.2,112.8 502.6,112.8" fill="#13f771" stroke="#079943" stroke-width="0.6"/>
<polygon points="486.0,112.6 491.3,121.6 480.7,121.6" fill="#13f7aa" stroke="#079967" stroke-width="0.6"/>
<polygon points="490.2,123.6 495.5,132.6 484.9,132.6" fill="#13f7f1" stroke="#079995" stroke-width="0.6"/>
<polygon points="504.6,132.8 509.9,141.8 499.3,141.8" fill="#13c1f7" stroke="#077699" stroke-width="0.6"/>
<polygon points="589.5,34.8 594.8,43.8 584.2,43.8" fill="#f75e13" stroke="#993707" stroke-width="0.6"/>
<polygon points="454.2,125.3 459.5,134.3 448.9,134.3" fill="#13f1f7" stroke="#079599" stroke-width="0.6"/>
<polygon points="553.9,58.0 559.2,67.0 548.6,67.0" fill="#dff713" stroke="#899907" stroke-width="0.6"/>
<polygon points="554.3,52.3 559.6,61.3 549.0,61.3" fill="#f7e713" stroke="#998e07" stroke-width="0.6"/>
<polygon points="478.8,125.6 484.1,134.6 473.5,134.6" fill="#13eff7" stroke="#079499" stroke-width="0.6"/>
<polygon points="516.0,123.7 521.3,132.7 510.7,132.7" fill="#13f7f2" stroke="#079995" stroke-width="0.6"/>
<polygon points="538.8,80.4 544.1,89.4 533.5,89.4" fill="#4ef713" stroke="#2d9907" stroke-width="0.6"/>
<polygon points="541.0,59.5 546.3,68.5 535.7,68.5" fill="#d5f713" stroke="#839907" stroke-width="0.6"/>
<polygon points="603.0,46.0 608.3,55.0 597.7,55.0" fill="#f7b613" stroke="#996f07" stroke-width="0.6"/>
<polygon points="560.3,52.3 565.6,61.3 555.0,61.3" fill="#f7e713" stroke="#998e07" stroke-width="0.6"/>
<polygon points="526.9,97.9 532.2,106.9 521.6,106.9" fill="#13f74b" stroke="#07992a" stroke-width="0.6"/>
<polygon points="612.0,65.2 617.3,74.2 606.7,74.2" fill="#b0f713" stroke="#6c9907" stroke-width="0.6"/>
<polygon points="533.2,78.9 538.5,87.9 527.9,87.9" fill="#57f713" stroke="#339907" stroke-width="0.6"/>
<polygon points="574.8,33.6 580.1,42.6 569.5,42.6" fill="#f75513" stroke="#993107" stroke-width="0.6"/>
<polygon points="543.8,47.1 549.1,56.1 538.5,56.1" fill="#f7bf13" stroke="#997507" stroke-width="0.6"/>
<polygon points="547.8,70.5 553.1,79.5 542.5,79.5" fill="#8ef713" stroke="#569907" stroke-width="0.6"/>
<polygon points="506.7,110.0 512.0,119.0 501.4,119.0" fill="#13f799" stroke="#07995c" stroke-width="0.6"/>
<polygon points="556.3,42.7 561.6,51.7 551.0,51.7" fill="#f79c13" stroke="#995f07" stroke-width="0.6"/>
<polygon points="593.3,32.3 598.6,41.3 588.0,41.3" fill="#f74c13" stroke="#992c07" stroke-width="0.6"/>
<polygon points="553.5,47.3 558.8,56.3 548.2,56.3" fill="#f7c013" stroke="#997507" stroke-width="0.6"/>
<polygon points="498.3,123.1 503.6,132.1 493.0,132.1" fill="#13f7ee" stroke="#079993" stroke-width="0.6"/>
<polygon points="510.3,131.3 515.6,140.3 505.0,140.3" fill="#13caf7" stroke="#077c99" stroke-width="0.6"/>
<polygon points="546.0,58.1 551.3,67.1 540.7,67.1" fill="#dff713" stroke="#899907" stroke-width="0.6"/>
<polygon points="518.6,98.2 523.9,107.2 513.3,107.2" fill="#13f74c" stroke="#07992c" stroke-width="0.6"/>
<polygon points="539.2,77.5 544.5,86.5 533.9,86.5" fill="#60f713" stroke="#389907" stroke-width="0.6"/>
<polygon points="503.8,131.4 509.1,140.4 498.5,140.4" fill="#13caf7" stroke="#077c99" stroke-width="0.6"/>
<polygon points="528.6,93.3 533.9,102.3 523.3,102.3" fill="#13f72d" stroke="#079917" stroke-width="0.6"/>
<polygon points="507.6,131.9 512.9,140.9 502.3,140.9" fill="#13c6f7" stroke="#077999" stroke-width="0.6"/>
<polygon points="515.5,108.6 520.8,117.6 510.2,117.6" fill="#13f790" stroke="#079957" stroke-width="0.6"/>
<polygon points="617.0,56.2 622.3,65.2 611.7,65.2" fill="#ebf713" stroke="#919907" stroke-width="0.6"/>
<polygon points="502.0,122.0 507.3,131.0 496.7,131.0" fill="#13f7e7" stroke="#07998e" stroke-width="0.6"/>
<polygon points="563.3,58.8 568.6,67.8 558.0,67.8" fill="#daf713" stroke="#869907" stroke-width="0.6"/>
<polygon points="435.5,127.5 440.8,136.5 430.2,136.5" fill="#13e3f7" stroke="#078c99" stroke-width="0.6"/>
<polygon points="545.7,36.6 551.0,45.6 540.4,45.6" fill="#f76d13" stroke="#994007" stroke-width="0.6"/>
<polygon points="504.5,126.8 509.8,135.8 499.2,135.8" fill="#13e8f7" stroke="#078f99" stroke-width="0.6"/>
<polygon points="566.8,32.7 572.1,41.7 561.5,41.7" fill="#f74f13" stroke="#992d07" stroke-width="0.6"/>
<polygon points="516.5,118.4 521.8,127.4 511.2,127.4" fill="#13f7d0" stroke="#079980" stroke-width="0.6"/>
<polygon points="504.0,115.2 509.3,124.2 498.7,124.2" fill="#13f7bb" stroke="#079972" stroke-width="0.6"/>
<polygon points="546.7,80.0 552.0,89.0 541.4,89.0" fill="#50f713" stroke="#2e9907" stroke-width="0.6"/>
<polygon points="632.3,53.9 637.6,62.9 627.0,62.9" fill="#f7f313" stroke="#999607" stroke-width="0.6"/>
<polygon points="479.1,112.0 484.4,121.0 473.8,121.0" fill="#13f7a6" stroke="#079965" stroke-width="0.6"/>
<polygon points="586.3,75.6 591.6,84.6 581.0,84.6" fill="#6df713" stroke="#409907" stroke-width="0.6"/>
<polygon points="514.8,118.6 520.1,127.6 509.5,127.6" fill="#13f7d1" stroke="#079980" stroke-width="0.6"/>
<polygon points="498.0,115.4 503.3,124.4 492.7,124.4" fill="#13f7bc" stroke="#079973" stroke-width="0.6"/>
<polygon points="480.3,114.8 485.6,123.8 475.0,123.8" fill="#13f7b8" stroke="#079970" stroke-width="0.6"/>
<polygon points="535.9,62.3 541.2,71.3 530.6,71.3" fill="#c3f713" stroke="#789907" stroke-width="0.6"/>
<polygon points="539.4,69.2 544.7,78.2 534.1,78.2" fill="#96f713" stroke="#5b9907" stroke-width="0.6"/>
<polygon points="539.1,54.2 544.4,63.2 533.8,63.2" fill="#f7f613" stroke="#999807" stroke-width="0.6"/>
<polygon points="524.9,100.6 530.2,109.6 519.6,109.6" fill="#13f75c" stroke="#079936" stroke-width="0.6"/>
<polygon points="554.1,39.7 559.4,48.7 548.8,48.7" fill="#f78513" stroke="#995007" stroke-width="0.6"/>
<polygon points="538.6,49.9 543.9,58.9 533.3,58.9" fill="#f7d413" stroke="#998307" stroke-width="0.6"/>
<polygon points="484.1,118.8 489.4,127.8 478.8,127.8" fill="#13f7d2" stroke="#079981" stroke-width="0.6"/>
<polygon points="556.7,47.2 562.0,56.2 551.4,56.2" fill="#f7bf13" stroke="#997507" stroke-width="0.6"/>
<polygon points="478.6,120.4 483.9,129.4 473.3,129.4" fill="#13f7dd" stroke="#079988" stroke-width="0.6"/>
<polygon points="494.3,124.0 499.6,133.0 489.0,133.0" fill="#13f7f4" stroke="#079997" stroke-width="0.6"/>
<polygon points="563.3,65.8 568.6,74.8 558.0,74.8" fill="#adf713" stroke="#699907" stroke-width="0.6"/>
<polygon points="513.0,127.6 518.3,136.6 507.7,136.6" fill="#13e2f7" stroke="#078b99" stroke-width="0.6"/>
<polygon points="484.1,109.9 489.4,118.9 478.8,118.9" fill="#13f798" stroke="#07995c" stroke-width="0.6"/>
<polygon points="494.2,131.1 499.5,140.1 488.9,140.1" fill="#13cbf7" stroke="#077d99" stroke-width="0.6"/>
<polygon points="554.0,62.2 559.3,71.2 548.7,71.2" fill="#c4f713" stroke="#789907" stroke-width="0.6"/>
<polygon points="510.2,124.6 515.5,133.6 504.9,133.6" fill="#13f6f7" stroke="#079899" stroke-width="0.6"/>
<polygon points="509.5,125.5 514.8,134.5 504.2,134.5" fill="#13f0f7" stroke="#079499" stroke-width="0.6"/>
<polygon points="505.6,106.8 510.9,115.8 500.3,115.8" fill="#13f784" stroke="#07994f" stroke-width="0.6"/>
<polygon points="544.8,77.6 550.1,86.6 539.5,86.6" fill="#60f713" stroke="#389907" stroke-width="0.6"/>
<polygon points="477.3,116.1 482.6,125.1 472.0,125.1" fill="#13f7c1" stroke="#079976" stroke-width="0.6"/>
<polygon points="538.4,65.1 543.7,74.1 533.1,74.1" fill="#b1f713" stroke="#6c9907" stroke-width="0.6"/>
<polygon points="490.7,107.8 496.0,116.8 485.4,116.8" fill="#13f78a" stroke="#079953" stroke-width="0.6"/>
<polygon points="490.7,115.0 496.0,124.0 485.4,124.0" fill="#13f7b9" stroke="#079971" stroke-width="0.6"/>
<polygon points="482.2,148.0 487.5,157.0 476.9,157.0" fill="#135ef7" stroke="#073799" stroke-width="0.6"/>
<polygon points="500.2,112.5 505.5,121.5 494.9,121.5" fill="#13f7a9" stroke="#079967" stroke-width="0.6"/>
<polygon points="556.5,32.5 561.8,41.5 551.2,41.5" fill="#f74d13" stroke="#992c07" stroke-width="0.6"/>
<polygon points="495.1,116.0 500.4,125.0 489.8,125.0" fill="#13f7c0" stroke="#079976" stroke-width="0.6"/>
<polygon points="514.4,112.7 519.7,121.7 509.1,121.7" fill="#13f7aa" stroke="#079968" stroke-width="0.6"/>
<polygon points="606.9,50.5 612.2,59.5 601.6,59.5" fill="#f7d913" stroke="#998507" stroke-width="0.6"/>
<polygon points="548.2,39.7 553.5,48.7 542.9,48.7" fill="#f78413" stroke="#994f07" stroke-width="0.6"/>
<polygon points="540.4,62.0 545.7,71.0 535.1,71.0" fill="#c5f713" stroke="#799907" stroke-width="0.6"/>
<polygon points="474.4,137.7 479.7,146.7 469.1,146.7" fill="#13a1f7" stroke="#076299" stroke-width="0.6"/>
<polygon points="510.5,115.3 515.8,124.3 505.2,124.3" fill="#13f7bb" stroke="#079972" stroke-width="0.6"/>
<polygon points="547.5,62.7 552.8,71.7 542.2,71.7" fill="#c0f713" stroke="#769907" stroke-width="0.6"/>
<polygon points="488.6,125.4 493.9,134.4 483.3,134.4" fill="#13f1f7" stroke="#079499" stroke-width="0.6"/>
<polygon points="508.3,111.3 513.6,120.3 503.0,120.3" fill="#13f7a1" stroke="#079962" stroke-width="0.6"/>
<polygon points="538.8,83.1 544.1,92.1 533.5,92.1" fill="#3cf713" stroke="#219907" stroke-width="0.6"/>
<polygon points="498.3,102.9 503.6,111.9 493.0,111.9" fill="#13f76b" stroke="#07993f" stroke-width="0.6"/>
<polygon points="544.1,82.4 549.4,91.4 538.8,91.4" fill="#41f713" stroke="#249907" stroke-width="0.6"/>
<polygon points="508.1,120.1 513.4,129.1 502.8,129.1" fill="#13f7da" stroke="#079986" stroke-width="0.6"/>
<polygon points="514.5,99.6 519.8,108.6 509.2,108.6" fill="#13f755" stroke="#079931" stroke-width="0.6"/>
<polygon points="517.3,126.8 522.6,135.8 512.0,135.8" fill="#13e7f7" stroke="#078f99" stroke-width="0.6"/>
<polygon points="536.3,83.1 541.6,92.1 531.0,92.1" fill="#3cf713" stroke="#219907" stroke-width="0.6"/>
<polygon points="526.0,94.6 531.3,103.6 520.7,103.6" fill="#13f735" stroke="#07991d" stroke-width="0.6"/>
<polygon points="541.6,43.6 546.9,52.6 536.3,52.6" fill="#f7a313" stroke="#996307" stroke-width="0.6"/>
<polygon points="549.6,71.7 554.9,80.7 544.3,80.7" fill="#86f713" stroke="#519907" stroke-width="0.6"/>
<polygon points="538.5,57.3 543.8,66.3 533.2,66.3" fill="#e4f713" stroke="#8c9907" stroke-width="0.6"/>
<polygon points="597.0,33.5 602.3,42.5 591.7,42.5" fill="#f75413" stroke="#993107" stroke-width="0.6"/>
<polygon points="479.7,110.0 485.0,119.0 474.4,119.0" fill="#13f799" stroke="#07995d" stroke-width="0.6"/>
<polygon points="507.6,101.3 512.9,110.3 502.3,110.3" fill="#13f760" stroke="#079938" stroke-width="0.6"/>
<polygon points="570.8,33.0 576.1,42.0 565.5,42.0" fill="#f75113" stroke="#992e07" stroke-width="0.6"/>
<polygon points="530.7,84.4 536.0,93.4 525.4,93.4" fill="#34f713" stroke="#1c9907" stroke-width="0.6"/>
<polygon points="497.4,105.9 502.7,114.9 492.1,114.9" fill="#13f77e" stroke="#07994b" stroke-width="0.6"/>
<polygon points="483.3,126.9 488.6,135.9 478.0,135.9" fill="#13e7f7" stroke="#078e99" stroke-width="0.6"/>
<polygon points="483.8,132.8 489.1,141.8 478.5,141.8" fill="#13c1f7" stroke="#077699" stroke-width="0.6"/>
<polygon points="543.3,65.7 548.6,74.7 538.0,74.7" fill="#adf713" stroke="#6a9907" stroke-width="0.6"/>
<polygon points="486.2,121.1 491.5,130.1 480.9,130.1" fill="#13f7e1" stroke="#07998b" stroke-width="0.6"/>
<polygon points="561.3,61.8 566.6,70.8 556.0,70.8" fill="#c7f713" stroke="#7a9907" stroke-width="0.6"/>
<polygon points="527.6,87.1 532.9,96.1 522.3,96.1" fill="#22f713" stroke="#119907" stroke-width="0.6"/>
<polygon points="543.1,79.2 548.4,88.2 537.8,88.2" fill="#55f713" stroke="#319907" stroke-width="0.6"/>
<polygon points="501.0,127.1 506.3,136.1 495.7,136.1" fill="#13e6f7" stroke="#078e99" stroke-width="0.6"/>
<polygon points="559.6,58.5 564.9,67.5 554.3,67.5" fill="#dcf713" stroke="#879907" stroke-width="0.6"/>
<polygon points="500.6,132.9 505.9,141.9 495.3,141.9" fill="#13c0f7" stroke="#077599" stroke-width="0.6"/>
<polygon points="546.9,66.4 552.2,75.4 541.6,75.4" fill="#a9f713" stroke="#679907" stroke-width="0.6"/>
<polygon points="554.3,32.1 559.6,41.1 549.0,41.1" fill="#f74b13" stroke="#992b07" stroke-width="0.6"/>
<polygon points="548.6,34.6 553.9,43.6 543.3,43.6" fill="#f75d13" stroke="#993607" stroke-width="0.6"/>
<polygon points="548.2,54.1 553.5,63.1 542.9,63.1" fill="#f7f513" stroke="#999707" stroke-width="0.6"/>
<polygon points="543.5,55.2 548.8,64.2 538.2,64.2" fill="#f2f713" stroke="#959907" stroke-width="0.6"/>
<polygon points="512.4,107.6 517.7,116.6 507.1,116.6" fill="#13f789" stroke="#079953" stroke-width="0.6"/>
<polygon points="499.4,129.6 504.7,138.6 494.1,138.6" fill="#13d6f7" stroke="#078399" stroke-width="0.6"/>
<polygon points="490.3,127.4 495.6,136.4 485.0,136.4" fill="#13e4f7" stroke="#078c99" stroke-width="0.6"/>
<polygon points="557.0,55.5 562.3,64.5 551.7,64.5" fill="#eff713" stroke="#949907" stroke-width="0.6"/>
<polygon points="551.3,43.5 556.6,52.5 546.0,52.5" fill="#f7a213" stroke="#996207" stroke-width="0.6"/>
<polygon points="507.0,140.9 512.3,149.9 501.7,149.9" fill="#138cf7" stroke="#075499" stroke-width="0.6"/>
<polygon points="499.2,105.1 504.5,114.1 493.9,114.1" fill="#13f779" stroke="#079948" stroke-width="0.6"/>
<polygon points="543.8,61.1 549.1,70.1 538.5,70.1" fill="#cbf713" stroke="#7c9907" stroke-width="0.6"/>
<polygon points="549.9,76.3 555.2,85.3 544.6,85.3" fill="#68f713" stroke="#3d9907" stroke-width="0.6"/>
<polygon points="521.9,105.1 527.2,114.1 516.6,114.1" fill="#13f779" stroke="#079948" stroke-width="0.6"/>
<polygon points="555.9,65.7 561.2,74.7 550.6,74.7" fill="#adf713" stroke="#6a9907" stroke-width="0.6"/>
<polygon points="563.4,33.1 568.7,42.1 558.1,42.1" fill="#f75213" stroke="#992f07" stroke-width="0.6"/>
<polygon points="466.6,137.7 471.9,146.7 461.3,146.7" fill="#13a1f7" stroke="#076299" stroke-width="0.6"/>
<polygon points="480.1,122.4 485.4,131.4 474.8,131.4" fill="#13f7e9" stroke="#079990" stroke-width="0.6"/>
<polygon points="541.0,50.1 546.3,59.1 535.7,59.1" fill="#f7d613" stroke="#998307" stroke-width="0.6"/>
<polygon points="492.3,119.7 497.6,128.7 487.0,128.7" fill="#13f7d8" stroke="#079985" stroke-width="0.6"/>
<polygon points="491.4,104.1 496.7,113.1 486.1,113.1" fill="#13f773" stroke="#079944" stroke-width="0.6"/>
<polygon points="604.0,66.3 609.3,75.3 598.7,75.3" fill="#a9f713" stroke="#679907" stroke-width="0.6"/>
<polygon points="496.1,113.6 501.4,122.6 490.8,122.6" fill="#13f7b0" stroke="#07996b" stroke-width="0.6"/>
<polygon points="520.7,102.8 526.0,111.8 515.4,111.8" fill="#13f76a" stroke="#07993f" stroke-width="0.6"/>
<polygon points="549.6,52.3 554.9,61.3 544.3,61.3" fill="#f7e713" stroke="#998e07" stroke-width="0.6"/>
<polygon points="551.2,59.0 556.5,68.0 545.9,68.0" fill="#d8f713" stroke="#859907" stroke-width="0.6"/>
<polygon points="544.6,41.2 549.9,50.2 539.3,50.2" fill="#f79013" stroke="#995707" stroke-width="0.6"/>
<polygon points="627.8,55.6 633.1,64.6 622.5,64.6" fill="#eff713" stroke="#939907" stroke-width="0.6"/>
<polygon points="534.3,73.3 539.6,82.3 529.0,82.3" fill="#7cf713" stroke="#4a9907" stroke-width="0.6"/>
<polygon points="492.7,112.4 498.0,121.4 487.4,121.4" fill="#13f7a9" stroke="#079967" stroke-width="0.6"/>
<polygon points="579.9,34.5 585.2,43.5 574.6,43.5" fill="#f75c13" stroke="#993607" stroke-width="0.6"/>
<polygon points="517.3,117.0 522.6,126.0 512.0,126.0" fill="#13f7c6" stroke="#079979" stroke-width="0.6"/>
<polygon points="485.0,130.3 490.3,139.3 479.7,139.3" fill="#13d1f7" stroke="#078099" stroke-width="0.6"/>
<polygon points="599.5,50.5 604.8,59.5 594.2,59.5" fill="#f7d913" stroke="#998507" stroke-width="0.6"/>
<polygon points="497.2,135.3 502.5,144.3 491.9,144.3" fill="#13b0f7" stroke="#076b99" stroke-width="0.6"/>
<polygon points="502.4,102.8 507.7,111.8 497.1,111.8" fill="#13f76a" stroke="#07993f" stroke-width="0.6"/>
<polygon points="564.5,78.7 569.8,87.7 559.2,87.7" fill="#59f713" stroke="#349907" stroke-width="0.6"/>
<polygon points="542.7,74.3 548.0,83.3 537.4,83.3" fill="#75f713" stroke="#469907" stroke-width="0.6"/>
<polygon points="497.3,126.7 502.6,135.7 492.0,135.7" fill="#13e8f7" stroke="#078f99" stroke-width="0.6"/>
<line x1="568.30" y1="29.20" x2="559.50" y2="46.00" stroke="#333" stroke-width="0.8"/>
<line x1="593.00" y1="29.50" x2="584.00" y2="33.50" stroke="#333" stroke-width="0.8"/>
<line x1="547.00" y1="126.30" x2="498.60" y2="137.30" stroke="#333" stroke-width="0.8"/>
<text x="569.15" y="26.60" style="font-family:'Liberation Serif',serif;font-weight:bold;stroke:#111;stroke-width:0.25px;font-size:10px" text-anchor="middle" fill="#111" textLength="31.70" lengthAdjust="spacingAndGlyphs" >Valine</text>
<text x="609.95" y="29.40" style="font-family:'Liberation Serif',serif;font-weight:bold;stroke:#111;stroke-width:0.25px;font-size:10px" text-anchor="middle" fill="#111" textLength="32.10" lengthAdjust="spacingAndGlyphs" >Alanin</text>
<text x="567.90" y="125.80" style="font-family:'Liberation Serif',serif;font-weight:bold;stroke:#111;stroke-width:0.25px;font-size:10px" text-anchor="middle" fill="#111" textLength="39.80" lengthAdjust="spacingAndGlyphs" >Glucose</text>
<defs><linearGradient id="cb1" x1="0" y1="0" x2="0" y2="1"><stop offset="0" stop-color="#ff0000"/><stop offset="0.125" stop-color="#ff8000"/><stop offset="0.25" stop-color="#ffff00"/><stop offset="0.375" stop-color="#80ff00"/><stop offset="0.5" stop-color="#00ff00"/><stop offset="0.625" stop-color="#00ff80"/><stop offset="0.75" stop-color="#00ffff"/><stop offset="0.875" stop-color="#0080ff"/><stop offset="1" stop-color="#0000ff"/></linearGradient></defs>
<rect x="643.5" y="31.5" width="10.5" height="155.0" fill="url(#cb1)"/>
<text x="673.60" y="28.50" style="font-family:'Liberation Serif',serif;font-weight:bold;stroke:#111;stroke-width:0.25px;font-size:8.5px" text-anchor="middle" fill="#111" textLength="60.40" lengthAdjust="spacingAndGlyphs" >M1.p(corr)[1]</text>
<text x="661.80" y="73.25" style="font-family:'Liberation Serif',serif;font-weight:bold;stroke:#111;stroke-width:0.25px;font-size:8.3px" text-anchor="middle" fill="#111" textLength="12.60" lengthAdjust="spacingAndGlyphs" >0.5</text>
<text x="658.00" y="112.00" style="font-family:'Liberation Serif',serif;font-weight:bold;stroke:#111;stroke-width:0.25px;font-size:8.3px" text-anchor="middle" fill="#111" textLength="5.00" lengthAdjust="spacingAndGlyphs" >0</text>
<text x="663.60" y="150.75" style="font-family:'Liberation Serif',serif;font-weight:bold;stroke:#111;stroke-width:0.25px;font-size:8.3px" text-anchor="middle" fill="#111" textLength="16.20" lengthAdjust="spacingAndGlyphs" >-0.5</text>
<text x="659.80" y="189.50" style="font-family:'Liberation Serif',serif;font-weight:bold;stroke:#111;stroke-width:0.25px;font-size:8.3px" text-anchor="middle" fill="#111" textLength="8.60" lengthAdjust="spacingAndGlyphs" >-1</text>
<text transform="translate(369.15,226.24) scale(1.190,1)" x="0" y="0" style="font-family:'Liberation Sans',sans-serif;font-size:29.02px" fill="#000">d</text>
<line x1="418.00" y1="227.00" x2="418.00" y2="368.25" stroke="#111" stroke-width="1.3"/>
<line x1="417.35" y1="367.60" x2="636.50" y2="367.60" stroke="#111" stroke-width="1.3"/>
<line x1="414.20" y1="367.50" x2="418.00" y2="367.50" stroke="#111" stroke-width="1.3"/>
<text x="408.54" y="370.80" style="font-family:'Liberation Serif',serif;font-weight:bold;stroke:#111;stroke-width:0.25px;font-size:8.8px" text-anchor="middle" fill="#111" textLength="9.71" lengthAdjust="spacingAndGlyphs" >-1</text>
<line x1="414.20" y1="353.48" x2="418.00" y2="353.48" stroke="#111" stroke-width="1.3"/>
<text x="404.37" y="356.78" style="font-family:'Liberation Serif',serif;font-weight:bold;stroke:#111;stroke-width:0.25px;font-size:8.8px" text-anchor="middle" fill="#111" textLength="18.06" lengthAdjust="spacingAndGlyphs" >-0.8</text>
<line x1="414.20" y1="339.46" x2="418.00" y2="339.46" stroke="#111" stroke-width="1.3"/>
<text x="404.37" y="342.76" style="font-family:'Liberation Serif',serif;font-weight:bold;stroke:#111;stroke-width:0.25px;font-size:8.8px" text-anchor="middle" fill="#111" textLength="18.06" lengthAdjust="spacingAndGlyphs" >-0.6</text>
<line x1="414.20" y1="325.44" x2="418.00" y2="325.44" stroke="#111" stroke-width="1.3"/>
<text x="404.37" y="328.74" style="font-family:'Liberation Serif',serif;font-weight:bold;stroke:#111;stroke-width:0.25px;font-size:8.8px" text-anchor="middle" fill="#111" textLength="18.06" lengthAdjust="spacingAndGlyphs" >-0.4</text>
<line x1="414.20" y1="311.42" x2="418.00" y2="311.42" stroke="#111" stroke-width="1.3"/>
<text x="404.37" y="314.72" style="font-family:'Liberation Serif',serif;font-weight:bold;stroke:#111;stroke-width:0.25px;font-size:8.8px" text-anchor="middle" fill="#111" textLength="18.06" lengthAdjust="spacingAndGlyphs" >-0.2</text>
<line x1="414.20" y1="297.40" x2="418.00" y2="297.40" stroke="#111" stroke-width="1.3"/>
<text x="410.62" y="300.70" style="font-family:'Liberation Serif',serif;font-weight:bold;stroke:#111;stroke-width:0.25px;font-size:8.8px" text-anchor="middle" fill="#111" textLength="5.55" lengthAdjust="spacingAndGlyphs" >0</text>
<line x1="414.20" y1="283.38" x2="418.00" y2="283.38" stroke="#111" stroke-width="1.3"/>
<text x="406.45" y="286.68" style="font-family:'Liberation Serif',serif;font-weight:bold;stroke:#111;stroke-width:0.25px;font-size:8.8px" text-anchor="middle" fill="#111" textLength="13.90" lengthAdjust="spacingAndGlyphs" >0.2</text>
<line x1="414.20" y1="269.36" x2="418.00" y2="269.36" stroke="#111" stroke-width="1.3"/>
<text x="406.45" y="272.66" style="font-family:'Liberation Serif',serif;font-weight:bold;stroke:#111;stroke-width:0.25px;font-size:8.8px" text-anchor="middle" fill="#111" textLength="13.90" lengthAdjust="spacingAndGlyphs" >0.4</text>
<line x1="414.20" y1="255.34" x2="418.00" y2="255.34" stroke="#111" stroke-width="1.3"/>
<text x="406.45" y="258.64" style="font-family:'Liberation Serif',serif;font-weight:bold;stroke:#111;stroke-width:0.25px;font-size:8.8px" text-anchor="middle" fill="#111" textLength="13.90" lengthAdjust="spacingAndGlyphs" >0.6</text>
<line x1="414.20" y1="241.32" x2="418.00" y2="241.32" stroke="#111" stroke-width="1.3"/>
<text x="406.45" y="244.62" style="font-family:'Liberation Serif',serif;font-weight:bold;stroke:#111;stroke-width:0.25px;font-size:8.8px" text-anchor="middle" fill="#111" textLength="13.90" lengthAdjust="spacingAndGlyphs" >0.8</text>
<line x1="414.20" y1="227.30" x2="418.00" y2="227.30" stroke="#111" stroke-width="1.3"/>
<text x="410.62" y="230.60" style="font-family:'Liberation Serif',serif;font-weight:bold;stroke:#111;stroke-width:0.25px;font-size:8.8px" text-anchor="middle" fill="#111" textLength="5.55" lengthAdjust="spacingAndGlyphs" >1</text>
<line x1="415.70" y1="360.49" x2="418.00" y2="360.49" stroke="#111" stroke-width="1.3"/>
<line x1="415.70" y1="346.47" x2="418.00" y2="346.47" stroke="#111" stroke-width="1.3"/>
<line x1="415.70" y1="332.45" x2="418.00" y2="332.45" stroke="#111" stroke-width="1.3"/>
<line x1="415.70" y1="318.43" x2="418.00" y2="318.43" stroke="#111" stroke-width="1.3"/>
<line x1="415.70" y1="304.41" x2="418.00" y2="304.41" stroke="#111" stroke-width="1.3"/>
<line x1="415.70" y1="290.39" x2="418.00" y2="290.39" stroke="#111" stroke-width="1.3"/>
<line x1="415.70" y1="276.37" x2="418.00" y2="276.37" stroke="#111" stroke-width="1.3"/>
<line x1="415.70" y1="262.35" x2="418.00" y2="262.35" stroke="#111" stroke-width="1.3"/>
<line x1="415.70" y1="248.33" x2="418.00" y2="248.33" stroke="#111" stroke-width="1.3"/>
<line x1="415.70" y1="234.31" x2="418.00" y2="234.31" stroke="#111" stroke-width="1.3"/>
<line x1="451.40" y1="367.60" x2="451.40" y2="371.40" stroke="#111" stroke-width="1.3"/>
<text x="451.40" y="381.70" style="font-family:'Liberation Serif',serif;font-weight:bold;stroke:#111;stroke-width:0.25px;font-size:8.8px" text-anchor="middle" fill="#111" textLength="18.06" lengthAdjust="spacingAndGlyphs" >-0.2</text>
<line x1="500.20" y1="367.60" x2="500.20" y2="371.40" stroke="#111" stroke-width="1.3"/>
<text x="500.20" y="381.70" style="font-family:'Liberation Serif',serif;font-weight:bold;stroke:#111;stroke-width:0.25px;font-size:8.8px" text-anchor="middle" fill="#111" textLength="18.06" lengthAdjust="spacingAndGlyphs" >-0.1</text>
<line x1="549.00" y1="367.60" x2="549.00" y2="371.40" stroke="#111" stroke-width="1.3"/>
<text x="549.00" y="381.70" style="font-family:'Liberation Serif',serif;font-weight:bold;stroke:#111;stroke-width:0.25px;font-size:8.8px" text-anchor="middle" fill="#111" textLength="5.55" lengthAdjust="spacingAndGlyphs" >0</text>
<line x1="597.80" y1="367.60" x2="597.80" y2="371.40" stroke="#111" stroke-width="1.3"/>
<text x="597.80" y="381.70" style="font-family:'Liberation Serif',serif;font-weight:bold;stroke:#111;stroke-width:0.25px;font-size:8.8px" text-anchor="middle" fill="#111" textLength="13.90" lengthAdjust="spacingAndGlyphs" >0.1</text>
<line x1="427.00" y1="367.60" x2="427.00" y2="369.90" stroke="#111" stroke-width="1.3"/>
<line x1="475.80" y1="367.60" x2="475.80" y2="369.90" stroke="#111" stroke-width="1.3"/>
<line x1="524.60" y1="367.60" x2="524.60" y2="369.90" stroke="#111" stroke-width="1.3"/>
<line x1="573.40" y1="367.60" x2="573.40" y2="369.90" stroke="#111" stroke-width="1.3"/>
<line x1="622.20" y1="367.60" x2="622.20" y2="369.90" stroke="#111" stroke-width="1.3"/>
<text x="526.55" y="392.00" style="font-family:'Liberation Serif',serif;font-weight:bold;stroke:#111;stroke-width:0.25px;font-size:10px" text-anchor="middle" fill="#111" textLength="15.90" lengthAdjust="spacingAndGlyphs" >p[1]</text>
<text transform="translate(388.00,297.00) rotate(-90)" x="0" y="0" style="font-family:'Liberation Serif',serif;font-weight:bold;stroke:#111;stroke-width:0.25px;font-size:9px" text-anchor="middle" dominant-baseline="central" fill="#111" textLength="35.00" lengthAdjust="spacingAndGlyphs">p(corr)[1]</text>
<line x1="418.50" y1="297.60" x2="637.50" y2="297.60" stroke="#111" stroke-width="1.5"/>
<line x1="549.00" y1="227.00" x2="549.00" y2="367.60" stroke="#111" stroke-width="1.5"/>
<polygon points="566.0,253.2 571.3,262.2 560.7,262.2" fill="#f7d613" stroke="#998407" stroke-width="0.6"/>
<polygon points="569.4,233.2 574.7,242.2 564.1,242.2" fill="#f73f13" stroke="#992307" stroke-width="0.6"/>
<polygon points="554.4,251.7 559.7,260.7 549.1,260.7" fill="#f7cb13" stroke="#997c07" stroke-width="0.6"/>
<polygon points="444.9,358.0 450.2,367.0 439.6,367.0" fill="#1331f7" stroke="#071a99" stroke-width="0.6"/>
<polygon points="580.4,250.9 585.7,259.9 575.1,259.9" fill="#f7c513" stroke="#997907" stroke-width="0.6"/>
<polygon points="575.1,233.9 580.4,242.9 569.8,242.9" fill="#f74313" stroke="#992607" stroke-width="0.6"/>
<polygon points="546.8,298.9 552.1,307.9 541.5,307.9" fill="#13f73d" stroke="#079922" stroke-width="0.6"/>
<polygon points="537.2,307.6 542.5,316.6 531.9,316.6" fill="#13f776" stroke="#079946" stroke-width="0.6"/>
<polygon points="614.0,232.5 619.3,241.5 608.7,241.5" fill="#f73a13" stroke="#992007" stroke-width="0.6"/>
<polygon points="563.1,278.5 568.4,287.5 557.8,287.5" fill="#6df713" stroke="#419907" stroke-width="0.6"/>
<polygon points="556.2,238.8 561.5,247.8 550.9,247.8" fill="#f76613" stroke="#993c07" stroke-width="0.6"/>
<polygon points="556.1,265.8 561.4,274.8 550.8,274.8" fill="#c0f713" stroke="#759907" stroke-width="0.6"/>
<polygon points="575.3,235.6 580.6,244.6 570.0,244.6" fill="#f74e13" stroke="#992d07" stroke-width="0.6"/>
<polygon points="499.2,348.6 504.5,357.6 493.9,357.6" fill="#136ef7" stroke="#074199" stroke-width="0.6"/>
<polygon points="548.1,284.6 553.4,293.6 542.8,293.6" fill="#46f713" stroke="#289907" stroke-width="0.6"/>
<polygon points="592.8,239.7 598.1,248.7 587.5,248.7" fill="#f76e13" stroke="#994107" stroke-width="0.6"/>
<polygon points="577.5,244.0 582.8,253.0 572.2,253.0" fill="#f78f13" stroke="#995607" stroke-width="0.6"/>
<polygon points="549.9,293.2 555.2,302.2 544.6,302.2" fill="#13f719" stroke="#07990b" stroke-width="0.6"/>
<polygon points="541.8,315.3 547.1,324.3 536.5,324.3" fill="#13f7a8" stroke="#079966" stroke-width="0.6"/>
<polygon points="507.0,351.7 512.3,360.7 501.7,360.7" fill="#1359f7" stroke="#073499" stroke-width="0.6"/>
<polygon points="557.9,246.3 563.2,255.3 552.6,255.3" fill="#f7a113" stroke="#996207" stroke-width="0.6"/>
<polygon points="560.3,277.4 565.6,286.4 555.0,286.4" fill="#75f713" stroke="#459907" stroke-width="0.6"/>
<polygon points="451.1,356.4 456.4,365.4 445.8,365.4" fill="#133bf7" stroke="#072099" stroke-width="0.6"/>
<polygon points="577.2,249.3 582.5,258.3 571.9,258.3" fill="#f7b813" stroke="#997107" stroke-width="0.6"/>
<polygon points="563.0,237.1 568.3,246.1 557.7,246.1" fill="#f75913" stroke="#993407" stroke-width="0.6"/>
<polygon points="568.8,265.5 574.1,274.5 563.5,274.5" fill="#c2f713" stroke="#779907" stroke-width="0.6"/>
<polygon points="555.5,263.1 560.8,272.1 550.2,272.1" fill="#d2f713" stroke="#819907" stroke-width="0.6"/>
<polygon points="538.8,348.1 544.1,357.1 533.5,357.1" fill="#1371f7" stroke="#074399" stroke-width="0.6"/>
<polygon points="591.9,231.6 597.2,240.6 586.6,240.6" fill="#f73413" stroke="#991c07" stroke-width="0.6"/>
<polygon points="555.5,244.3 560.8,253.3 550.2,253.3" fill="#f79113" stroke="#995807" stroke-width="0.6"/>
<polygon points="573.4,254.9 578.7,263.9 568.1,263.9" fill="#f7e313" stroke="#998c07" stroke-width="0.6"/>
<polygon points="553.5,247.4 558.8,256.4 548.2,256.4" fill="#f7a913" stroke="#996707" stroke-width="0.6"/>
<polygon points="564.4,257.4 569.7,266.4 559.1,266.4" fill="#f7f713" stroke="#989907" stroke-width="0.6"/>
<polygon points="455.7,345.5 461.0,354.5 450.4,354.5" fill="#1382f7" stroke="#074e99" stroke-width="0.6"/>
<polygon points="528.8,308.2 534.1,317.2 523.5,317.2" fill="#13f77a" stroke="#079949" stroke-width="0.6"/>
<polygon points="564.7,238.7 570.0,247.7 559.4,247.7" fill="#f76513" stroke="#993c07" stroke-width="0.6"/>
<polygon points="581.8,236.7 587.1,245.7 576.5,245.7" fill="#f75613" stroke="#993207" stroke-width="0.6"/>
<polygon points="571.7,244.1 577.0,253.1 566.4,253.1" fill="#f78f13" stroke="#995607" stroke-width="0.6"/>
<polygon points="448.0,351.7 453.3,360.7 442.7,360.7" fill="#1359f7" stroke="#073499" stroke-width="0.6"/>
<polygon points="542.3,319.7 547.6,328.7 537.0,328.7" fill="#13f7c5" stroke="#079978" stroke-width="0.6"/>
<polygon points="561.7,246.7 567.0,255.7 556.4,255.7" fill="#f7a413" stroke="#996307" stroke-width="0.6"/>
<polygon points="585.9,244.2 591.2,253.2 580.6,253.2" fill="#f79013" stroke="#995707" stroke-width="0.6"/>
<polygon points="553.7,282.5 559.0,291.5 548.4,291.5" fill="#54f713" stroke="#309907" stroke-width="0.6"/>
<polygon points="539.2,320.0 544.5,329.0 533.9,329.0" fill="#13f7c7" stroke="#07997a" stroke-width="0.6"/>
<polygon points="571.3,258.1 576.6,267.1 566.0,267.1" fill="#f2f713" stroke="#959907" stroke-width="0.6"/>
<polygon points="547.5,305.0 552.8,314.0 542.2,314.0" fill="#13f765" stroke="#07993b" stroke-width="0.6"/>
<polygon points="538.3,340.8 543.6,349.8 533.0,349.8" fill="#13a0f7" stroke="#076199" stroke-width="0.6"/>
<polygon points="550.9,280.9 556.2,289.9 545.6,289.9" fill="#5ef713" stroke="#379907" stroke-width="0.6"/>
<polygon points="566.7,273.2 572.0,282.2 561.4,282.2" fill="#90f713" stroke="#579907" stroke-width="0.6"/>
<polygon points="540.1,304.0 545.4,313.0 534.8,313.0" fill="#13f75e" stroke="#079937" stroke-width="0.6"/>
<polygon points="562.4,249.7 567.7,258.7 557.1,258.7" fill="#f7bc13" stroke="#997307" stroke-width="0.6"/>
<polygon points="582.4,241.5 587.7,250.5 577.1,250.5" fill="#f77b13" stroke="#994a07" stroke-width="0.6"/>
<polygon points="529.5,339.9 534.8,348.9 524.2,348.9" fill="#13a6f7" stroke="#076599" stroke-width="0.6"/>
<polygon points="533.7,308.0 539.0,317.0 528.4,317.0" fill="#13f779" stroke="#079948" stroke-width="0.6"/>
<polygon points="577.4,240.0 582.7,249.0 572.1,249.0" fill="#f76f13" stroke="#994207" stroke-width="0.6"/>
<polygon points="577.2,258.3 582.5,267.3 571.9,267.3" fill="#f0f713" stroke="#949907" stroke-width="0.6"/>
<polygon points="541.2,330.4 546.5,339.4 535.9,339.4" fill="#13e4f7" stroke="#078c99" stroke-width="0.6"/>
<polygon points="565.6,267.3 570.9,276.3 560.3,276.3" fill="#b6f713" stroke="#6f9907" stroke-width="0.6"/>
<polygon points="535.1,347.2 540.4,356.2 529.8,356.2" fill="#1377f7" stroke="#074799" stroke-width="0.6"/>
<polygon points="562.8,273.6 568.1,282.6 557.5,282.6" fill="#8df713" stroke="#559907" stroke-width="0.6"/>
<polygon points="536.0,311.5 541.3,320.5 530.7,320.5" fill="#13f78f" stroke="#079956" stroke-width="0.6"/>
<polygon points="540.3,327.6 545.6,336.6 535.0,336.6" fill="#13f6f7" stroke="#079899" stroke-width="0.6"/>
<polygon points="556.1,259.2 561.4,268.2 550.8,268.2" fill="#ebf713" stroke="#919907" stroke-width="0.6"/>
<polygon points="534.8,341.5 540.1,350.5 529.5,350.5" fill="#139cf7" stroke="#075e99" stroke-width="0.6"/>
<polygon points="623.5,246.0 628.8,255.0 618.2,255.0" fill="#f79e13" stroke="#996007" stroke-width="0.6"/>
<polygon points="544.5,327.1 549.8,336.1 539.2,336.1" fill="#13f7f5" stroke="#079997" stroke-width="0.6"/>
<polygon points="549.7,272.8 555.0,281.8 544.4,281.8" fill="#93f713" stroke="#599907" stroke-width="0.6"/>
<polygon points="570.5,263.0 575.8,272.0 565.2,272.0" fill="#d2f713" stroke="#819907" stroke-width="0.6"/>
<polygon points="545.0,313.4 550.3,322.4 539.7,322.4" fill="#13f79c" stroke="#07995e" stroke-width="0.6"/>
<polygon points="542.3,343.4 547.6,352.4 537.0,352.4" fill="#138ff7" stroke="#075699" stroke-width="0.6"/>
<polygon points="600.9,232.2 606.2,241.2 595.6,241.2" fill="#f73813" stroke="#991f07" stroke-width="0.6"/>
<polygon points="586.5,246.8 591.8,255.8 581.2,255.8" fill="#f7a513" stroke="#996407" stroke-width="0.6"/>
<polygon points="562.5,244.7 567.8,253.7 557.2,253.7" fill="#f79413" stroke="#995a07" stroke-width="0.6"/>
<polygon points="553.3,253.4 558.6,262.4 548.0,262.4" fill="#f7d813" stroke="#998507" stroke-width="0.6"/>
<polygon points="562.6,269.8 567.9,278.8 557.3,278.8" fill="#a6f713" stroke="#659907" stroke-width="0.6"/>
<polygon points="542.8,302.0 548.1,311.0 537.5,311.0" fill="#13f752" stroke="#07992f" stroke-width="0.6"/>
<polygon points="519.4,347.0 524.7,356.0 514.1,356.0" fill="#1378f7" stroke="#074799" stroke-width="0.6"/>
<polygon points="558.3,275.0 563.6,284.0 553.0,284.0" fill="#84f713" stroke="#4f9907" stroke-width="0.6"/>
<polygon points="552.5,289.6 557.8,298.6 547.2,298.6" fill="#25f713" stroke="#139907" stroke-width="0.6"/>
<polygon points="572.3,252.0 577.6,261.0 567.0,261.0" fill="#f7cd13" stroke="#997e07" stroke-width="0.6"/>
<polygon points="438.6,354.8 443.9,363.8 433.3,363.8" fill="#1345f7" stroke="#072799" stroke-width="0.6"/>
<polygon points="539.5,335.0 544.8,344.0 534.2,344.0" fill="#13c6f7" stroke="#077999" stroke-width="0.6"/>
<polygon points="574.9,238.9 580.2,247.9 569.6,247.9" fill="#f76713" stroke="#993d07" stroke-width="0.6"/>
<polygon points="567.8,250.3 573.1,259.3 562.5,259.3" fill="#f7c013" stroke="#997507" stroke-width="0.6"/>
<polygon points="610.7,233.8 616.0,242.8 605.4,242.8" fill="#f74313" stroke="#992607" stroke-width="0.6"/>
<polygon points="544.8,315.5 550.1,324.5 539.5,324.5" fill="#13f7a9" stroke="#079967" stroke-width="0.6"/>
<polygon points="542.1,304.7 547.4,313.7 536.8,313.7" fill="#13f763" stroke="#07993a" stroke-width="0.6"/>
<polygon points="558.0,251.9 563.3,260.9 552.7,260.9" fill="#f7cd13" stroke="#997d07" stroke-width="0.6"/>
<polygon points="533.6,345.5 538.9,354.5 528.3,354.5" fill="#1381f7" stroke="#074d99" stroke-width="0.6"/>
<polygon points="583.5,233.3 588.8,242.3 578.2,242.3" fill="#f73f13" stroke="#992307" stroke-width="0.6"/>
<polygon points="540.3,322.5 545.6,331.5 535.0,331.5" fill="#13f7d7" stroke="#079984" stroke-width="0.6"/>
<polygon points="557.4,267.7 562.7,276.7 552.1,276.7" fill="#b4f713" stroke="#6e9907" stroke-width="0.6"/>
<polygon points="567.3,236.6 572.6,245.6 562.0,245.6" fill="#f75513" stroke="#993107" stroke-width="0.6"/>
<polygon points="507.0,339.3 512.3,348.3 501.7,348.3" fill="#13aaf7" stroke="#076799" stroke-width="0.6"/>
<polygon points="537.3,351.6 542.6,360.6 532.0,360.6" fill="#135af7" stroke="#073499" stroke-width="0.6"/>
<polygon points="529.9,346.9 535.2,355.9 524.6,355.9" fill="#1379f7" stroke="#074899" stroke-width="0.6"/>
<polygon points="541.8,307.7 547.1,316.7 536.5,316.7" fill="#13f777" stroke="#079947" stroke-width="0.6"/>
<polygon points="566.8,248.0 572.1,257.0 561.5,257.0" fill="#f7ae13" stroke="#996a07" stroke-width="0.6"/>
<polygon points="539.8,311.1 545.1,320.1 534.5,320.1" fill="#13f78d" stroke="#079955" stroke-width="0.6"/>
<polygon points="558.4,280.3 563.7,289.3 553.1,289.3" fill="#62f713" stroke="#3a9907" stroke-width="0.6"/>
<polygon points="575.5,262.3 580.8,271.3 570.2,271.3" fill="#d7f713" stroke="#849907" stroke-width="0.6"/>
<polygon points="536.7,343.3 542.0,352.3 531.4,352.3" fill="#1390f7" stroke="#075799" stroke-width="0.6"/>
<polygon points="567.5,256.5 572.8,265.5 562.2,265.5" fill="#f7f113" stroke="#999407" stroke-width="0.6"/>
<polygon points="581.9,243.7 587.2,252.7 576.6,252.7" fill="#f78c13" stroke="#995407" stroke-width="0.6"/>
<polygon points="563.0,266.2 568.3,275.2 557.7,275.2" fill="#bdf713" stroke="#749907" stroke-width="0.6"/>
<polygon points="566.5,231.9 571.8,240.9 561.2,240.9" fill="#f73613" stroke="#991d07" stroke-width="0.6"/>
<polygon points="588.8,236.3 594.1,245.3 583.5,245.3" fill="#f75313" stroke="#993007" stroke-width="0.6"/>
<polygon points="554.6,278.2 559.9,287.2 549.3,287.2" fill="#6ff713" stroke="#429907" stroke-width="0.6"/>
<polygon points="528.9,336.5 534.2,345.5 523.6,345.5" fill="#13bcf7" stroke="#077399" stroke-width="0.6"/>
<polygon points="562.2,233.7 567.5,242.7 556.9,242.7" fill="#f74213" stroke="#992507" stroke-width="0.6"/>
<polygon points="528.8,356.4 534.1,365.4 523.5,365.4" fill="#133bf7" stroke="#072099" stroke-width="0.6"/>
<polygon points="571.0,269.2 576.3,278.2 565.7,278.2" fill="#aaf713" stroke="#679907" stroke-width="0.6"/>
<polygon points="536.3,324.0 541.6,333.0 531.0,333.0" fill="#13f7e0" stroke="#07998a" stroke-width="0.6"/>
<polygon points="548.8,290.5 554.1,299.5 543.5,299.5" fill="#20f713" stroke="#0f9907" stroke-width="0.6"/>
<polygon points="553.3,239.6 558.6,248.6 548.0,248.6" fill="#f76c13" stroke="#994007" stroke-width="0.6"/>
<polygon points="560.6,262.8 565.9,271.8 555.3,271.8" fill="#d4f713" stroke="#829907" stroke-width="0.6"/>
<polygon points="573.4,235.2 578.7,244.2 568.1,244.2" fill="#f74c13" stroke="#992b07" stroke-width="0.6"/>
<polygon points="562.6,239.8 567.9,248.8 557.3,248.8" fill="#f76e13" stroke="#994107" stroke-width="0.6"/>
<polygon points="558.0,254.0 563.3,263.0 552.7,263.0" fill="#f7dd13" stroke="#998807" stroke-width="0.6"/>
<polygon points="569.9,247.3 575.2,256.3 564.6,256.3" fill="#f7a813" stroke="#996607" stroke-width="0.6"/>
<polygon points="606.0,235.8 611.3,244.8 600.7,244.8" fill="#f74f13" stroke="#992e07" stroke-width="0.6"/>
<polygon points="535.1,326.1 540.4,335.1 529.8,335.1" fill="#13f7ee" stroke="#079993" stroke-width="0.6"/>
<polygon points="569.0,244.9 574.3,253.9 563.7,253.9" fill="#f79613" stroke="#995a07" stroke-width="0.6"/>
<polygon points="586.5,240.1 591.8,249.1 581.2,249.1" fill="#f77013" stroke="#994307" stroke-width="0.6"/>
<polygon points="571.0,265.6 576.3,274.6 565.7,274.6" fill="#c2f713" stroke="#769907" stroke-width="0.6"/>
<polygon points="530.2,356.6 535.5,365.6 524.9,365.6" fill="#1339f7" stroke="#072099" stroke-width="0.6"/>
<polygon points="559.4,235.7 564.7,244.7 554.1,244.7" fill="#f74f13" stroke="#992d07" stroke-width="0.6"/>
<polygon points="536.8,336.2 542.1,345.2 531.5,345.2" fill="#13bef7" stroke="#077499" stroke-width="0.6"/>
<polygon points="527.0,348.1 532.3,357.1 521.7,357.1" fill="#1371f7" stroke="#074399" stroke-width="0.6"/>
<polygon points="568.7,239.0 574.0,248.0 563.4,248.0" fill="#f76813" stroke="#993d07" stroke-width="0.6"/>
<polygon points="553.9,272.4 559.2,281.4 548.6,281.4" fill="#95f713" stroke="#5a9907" stroke-width="0.6"/>
<polygon points="566.2,262.3 571.5,271.3 560.9,271.3" fill="#d7f713" stroke="#849907" stroke-width="0.6"/>
<polygon points="543.3,298.8 548.6,307.8 538.0,307.8" fill="#13f73d" stroke="#079922" stroke-width="0.6"/>
<polygon points="561.4,254.0 566.7,263.0 556.1,263.0" fill="#f7dc13" stroke="#998807" stroke-width="0.6"/>
<polygon points="529.3,334.8 534.6,343.8 524.0,343.8" fill="#13c7f7" stroke="#077a99" stroke-width="0.6"/>
<polygon points="587.6,231.8 592.9,240.8 582.3,240.8" fill="#f73613" stroke="#991d07" stroke-width="0.6"/>
<polygon points="533.7,319.6 539.0,328.6 528.4,328.6" fill="#13f7c4" stroke="#079978" stroke-width="0.6"/>
<polygon points="531.4,323.9 536.7,332.9 526.1,332.9" fill="#13f7e0" stroke="#07998a" stroke-width="0.6"/>
<polygon points="526.7,350.8 532.0,359.8 521.4,359.8" fill="#135ff7" stroke="#073899" stroke-width="0.6"/>
<polygon points="536.5,353.3 541.8,362.3 531.2,362.3" fill="#134ff7" stroke="#072d99" stroke-width="0.6"/>
<polygon points="488.4,357.0 493.7,366.0 483.1,366.0" fill="#1337f7" stroke="#071e99" stroke-width="0.6"/>
<polygon points="584.3,247.5 589.6,256.5 579.0,256.5" fill="#f7aa13" stroke="#996807" stroke-width="0.6"/>
<polygon points="606.4,233.0 611.7,242.0 601.1,242.0" fill="#f73e13" stroke="#992207" stroke-width="0.6"/>
<polygon points="538.0,297.3 543.3,306.3 532.7,306.3" fill="#13f733" stroke="#07991b" stroke-width="0.6"/>
<polygon points="551.8,260.5 557.1,269.5 546.5,269.5" fill="#e3f713" stroke="#8c9907" stroke-width="0.6"/>
<polygon points="426.2,348.6 431.5,357.6 420.9,357.6" fill="#136ef7" stroke="#074199" stroke-width="0.6"/>
<polygon points="533.5,350.9 538.8,359.9 528.2,359.9" fill="#135ff7" stroke="#073799" stroke-width="0.6"/>
<polygon points="546.7,302.6 552.0,311.6 541.4,311.6" fill="#13f756" stroke="#079931" stroke-width="0.6"/>
<polygon points="569.7,255.7 575.0,264.7 564.4,264.7" fill="#f7ea13" stroke="#999007" stroke-width="0.6"/>
<polygon points="556.3,283.3 561.6,292.3 551.0,292.3" fill="#4ef713" stroke="#2d9907" stroke-width="0.6"/>
<polygon points="557.6,271.7 562.9,280.7 552.3,280.7" fill="#9af713" stroke="#5d9907" stroke-width="0.6"/>
<polygon points="599.8,237.8 605.1,246.8 594.5,246.8" fill="#f75e13" stroke="#993707" stroke-width="0.6"/>
<polygon points="553.2,270.0 558.5,279.0 547.9,279.0" fill="#a5f713" stroke="#649907" stroke-width="0.6"/>
<polygon points="545.0,295.4 550.3,304.4 539.7,304.4" fill="#13f727" stroke="#079914" stroke-width="0.6"/>
<polygon points="592.8,237.0 598.1,246.0 587.5,246.0" fill="#f75813" stroke="#993307" stroke-width="0.6"/>
<polygon points="581.8,253.0 587.1,262.0 576.5,262.0" fill="#f7d513" stroke="#998307" stroke-width="0.6"/>
<polygon points="534.8,335.0 540.1,344.0 529.5,344.0" fill="#13c6f7" stroke="#077999" stroke-width="0.6"/>
<polygon points="531.8,337.9 537.1,346.9 526.5,346.9" fill="#13b3f7" stroke="#076d99" stroke-width="0.6"/>
<polygon points="573.0,245.8 578.3,254.8 567.7,254.8" fill="#f79d13" stroke="#995f07" stroke-width="0.6"/>
<polygon points="603.7,237.8 609.0,246.8 598.4,246.8" fill="#f75e13" stroke="#993707" stroke-width="0.6"/>
<polygon points="536.2,331.5 541.5,340.5 530.9,340.5" fill="#13ddf7" stroke="#078899" stroke-width="0.6"/>
<polygon points="532.8,331.3 538.1,340.3 527.5,340.3" fill="#13def7" stroke="#078999" stroke-width="0.6"/>
<polygon points="548.9,286.6 554.2,295.6 543.6,295.6" fill="#39f713" stroke="#1f9907" stroke-width="0.6"/>
<polygon points="579.1,247.2 584.4,256.2 573.8,256.2" fill="#f7a813" stroke="#996607" stroke-width="0.6"/>
<polygon points="536.0,315.1 541.3,324.1 530.7,324.1" fill="#13f7a6" stroke="#079965" stroke-width="0.6"/>
<polygon points="558.7,257.7 564.0,266.7 553.4,266.7" fill="#f5f713" stroke="#979907" stroke-width="0.6"/>
<polygon points="579.9,231.6 585.2,240.6 574.6,240.6" fill="#f73413" stroke="#991c07" stroke-width="0.6"/>
<polygon points="560.3,266.5 565.6,275.5 555.0,275.5" fill="#bbf713" stroke="#739907" stroke-width="0.6"/>
<polygon points="552.7,275.6 558.0,284.6 547.4,284.6" fill="#80f713" stroke="#4d9907" stroke-width="0.6"/>
<polygon points="544.3,308.1 549.6,317.1 539.0,317.1" fill="#13f779" stroke="#079948" stroke-width="0.6"/>
<polygon points="529.1,343.9 534.4,352.9 523.8,352.9" fill="#138cf7" stroke="#075499" stroke-width="0.6"/>
<polygon points="472.8,348.6 478.1,357.6 467.5,357.6" fill="#136ef7" stroke="#074199" stroke-width="0.6"/>
<polygon points="559.0,242.4 564.3,251.4 553.7,251.4" fill="#f78213" stroke="#994e07" stroke-width="0.6"/>
<polygon points="555.9,234.1 561.2,243.1 550.6,243.1" fill="#f74413" stroke="#992707" stroke-width="0.6"/>
<polygon points="597.7,233.9 603.0,242.9 592.4,242.9" fill="#f74313" stroke="#992607" stroke-width="0.6"/>
<polygon points="578.3,253.8 583.6,262.8 573.0,262.8" fill="#f7db13" stroke="#998707" stroke-width="0.6"/>
<polygon points="531.6,315.3 536.9,324.3 526.3,324.3" fill="#13f7a8" stroke="#079966" stroke-width="0.6"/>
<polygon points="584.6,235.9 589.9,244.9 579.3,244.9" fill="#f75013" stroke="#992e07" stroke-width="0.6"/>
<polygon points="540.2,337.9 545.5,346.9 534.9,346.9" fill="#13b3f7" stroke="#076d99" stroke-width="0.6"/>
<line x1="529.40" y1="249.50" x2="566.00" y2="256.70" stroke="#333" stroke-width="0.7"/>
<line x1="516.30" y1="308.00" x2="538.00" y2="310.00" stroke="#333" stroke-width="0.7"/>
<line x1="519.40" y1="330.30" x2="531.90" y2="359.80" stroke="#333" stroke-width="0.7"/>
<text x="508.90" y="251.30" style="font-family:'Liberation Serif',serif;font-weight:bold;stroke:#111;stroke-width:0.25px;font-size:10px" text-anchor="middle" fill="#111" textLength="39.80" lengthAdjust="spacingAndGlyphs" >Glucose</text>
<text x="499.70" y="309.30" style="font-family:'Liberation Serif',serif;font-weight:bold;stroke:#111;stroke-width:0.25px;font-size:10px" text-anchor="middle" fill="#111" textLength="32.00" lengthAdjust="spacingAndGlyphs" >Valine</text>
<text x="505.15" y="329.00" style="font-family:'Liberation Serif',serif;font-weight:bold;stroke:#111;stroke-width:0.25px;font-size:10px" text-anchor="middle" fill="#111" textLength="37.90" lengthAdjust="spacingAndGlyphs" >Alanine</text>
<defs><linearGradient id="cb2" x1="0" y1="0" x2="0" y2="1"><stop offset="0" stop-color="#ff0000"/><stop offset="0.125" stop-color="#ff8000"/><stop offset="0.25" stop-color="#ffff00"/><stop offset="0.375" stop-color="#80ff00"/><stop offset="0.5" stop-color="#00ff00"/><stop offset="0.625" stop-color="#00ff80"/><stop offset="0.75" stop-color="#00ffff"/><stop offset="0.875" stop-color="#0080ff"/><stop offset="1" stop-color="#0000ff"/></linearGradient></defs>
<rect x="643.2" y="236" width="9.599999999999909" height="154.39999999999998" fill="url(#cb2)"/>
<text x="673.30" y="233.00" style="font-family:'Liberation Serif',serif;font-weight:bold;stroke:#111;stroke-width:0.25px;font-size:8.5px" text-anchor="middle" fill="#111" textLength="60.40" lengthAdjust="spacingAndGlyphs" >M1.p(corr)[1]</text>
<text x="660.60" y="277.60" style="font-family:'Liberation Serif',serif;font-weight:bold;stroke:#111;stroke-width:0.25px;font-size:8.3px" text-anchor="middle" fill="#111" textLength="12.60" lengthAdjust="spacingAndGlyphs" >0.5</text>
<text x="656.80" y="316.20" style="font-family:'Liberation Serif',serif;font-weight:bold;stroke:#111;stroke-width:0.25px;font-size:8.3px" text-anchor="middle" fill="#111" textLength="5.00" lengthAdjust="spacingAndGlyphs" >0</text>
<text x="662.40" y="354.80" style="font-family:'Liberation Serif',serif;font-weight:bold;stroke:#111;stroke-width:0.25px;font-size:8.3px" text-anchor="middle" fill="#111" textLength="16.20" lengthAdjust="spacingAndGlyphs" >-0.5</text>
<text x="658.60" y="393.40" style="font-family:'Liberation Serif',serif;font-weight:bold;stroke:#111;stroke-width:0.25px;font-size:8.3px" text-anchor="middle" fill="#111" textLength="8.60" lengthAdjust="spacingAndGlyphs" >-1</text>
<text transform="translate(37.73,433.45) scale(0.818,1)" x="0" y="0" style="font-family:'Liberation Sans',sans-serif;stroke:#000;stroke-width:1.2px;font-size:28.15px" fill="#000">e</text>
<rect x="65.30" y="511.10" width="35.60" height="50.40" fill="#0cbe0c" stroke="#111" stroke-width="1.5"/>
<line x1="83.10" y1="511.10" x2="83.10" y2="503.80" stroke="#111" stroke-width="1.7"/>
<line x1="73.80" y1="503.80" x2="92.40" y2="503.80" stroke="#111" stroke-width="1.8"/>
<line x1="83.10" y1="561.50" x2="83.10" y2="565.70" stroke="#111" stroke-width="1.5"/>
<text x="80.75" y="579.20" style="font-family:'Liberation Sans',sans-serif;font-weight:bold;stroke:#111;stroke-width:0.3px;font-size:10px" text-anchor="middle" fill="#111" textLength="33.50" lengthAdjust="spacingAndGlyphs" >control</text>
<rect x="119.20" y="521.40" width="35.30" height="40.10" fill="#ffff00" stroke="#111" stroke-width="1.5"/>
<line x1="136.85" y1="521.40" x2="136.85" y2="514.60" stroke="#111" stroke-width="1.7"/>
<line x1="130.35" y1="514.60" x2="143.35" y2="514.60" stroke="#111" stroke-width="1.8"/>
<line x1="136.85" y1="561.50" x2="136.85" y2="565.70" stroke="#111" stroke-width="1.5"/>
<text x="136.35" y="579.20" style="font-family:'Liberation Sans',sans-serif;font-weight:bold;stroke:#111;stroke-width:0.3px;font-size:10px" text-anchor="middle" fill="#111" textLength="29.30" lengthAdjust="spacingAndGlyphs" >model</text>
<rect x="173.40" y="502.10" width="35.10" height="59.40" fill="#a00000" stroke="#111" stroke-width="1.5"/>
<line x1="190.95" y1="502.10" x2="190.95" y2="490.70" stroke="#111" stroke-width="1.7"/>
<line x1="181.45" y1="490.70" x2="200.45" y2="490.70" stroke="#111" stroke-width="1.8"/>
<line x1="190.95" y1="561.50" x2="190.95" y2="565.70" stroke="#111" stroke-width="1.5"/>
<text x="190.35" y="579.20" style="font-family:'Liberation Sans',sans-serif;font-weight:bold;stroke:#111;stroke-width:0.3px;font-size:10px" text-anchor="middle" fill="#111" textLength="13.10" lengthAdjust="spacingAndGlyphs" >EA</text>
<line x1="55.20" y1="453.60" x2="55.20" y2="562.20" stroke="#111" stroke-width="1.6"/>
<line x1="54.50" y1="561.50" x2="218.30" y2="561.50" stroke="#111" stroke-width="1.6"/>
<line x1="51.70" y1="561.50" x2="55.20" y2="561.50" stroke="#111" stroke-width="1.3"/>
<text x="38.30" y="564.52" style="font-family:'Liberation Sans',sans-serif;font-weight:bold;stroke:#111;stroke-width:0.15px;font-size:8.4px" text-anchor="middle" fill="#111" textLength="24.40" lengthAdjust="spacingAndGlyphs" >0.0000</text>
<line x1="51.70" y1="525.53" x2="55.20" y2="525.53" stroke="#111" stroke-width="1.3"/>
<text x="38.30" y="528.56" style="font-family:'Liberation Sans',sans-serif;font-weight:bold;stroke:#111;stroke-width:0.15px;font-size:8.4px" text-anchor="middle" fill="#111" textLength="24.40" lengthAdjust="spacingAndGlyphs" >0.0005</text>
<line x1="51.70" y1="489.57" x2="55.20" y2="489.57" stroke="#111" stroke-width="1.3"/>
<text x="38.30" y="492.59" style="font-family:'Liberation Sans',sans-serif;font-weight:bold;stroke:#111;stroke-width:0.15px;font-size:8.4px" text-anchor="middle" fill="#111" textLength="24.40" lengthAdjust="spacingAndGlyphs" >0.0010</text>
<line x1="51.70" y1="453.60" x2="55.20" y2="453.60" stroke="#111" stroke-width="1.3"/>
<text x="38.30" y="456.62" style="font-family:'Liberation Sans',sans-serif;font-weight:bold;stroke:#111;stroke-width:0.15px;font-size:8.4px" text-anchor="middle" fill="#111" textLength="24.40" lengthAdjust="spacingAndGlyphs" >0.0015</text>
<text x="138.45" y="441.40" style="font-family:'Liberation Sans',sans-serif;font-weight:bold;stroke:#111;stroke-width:0.3px;font-size:10.3px" text-anchor="middle" fill="#111" textLength="41.10" lengthAdjust="spacingAndGlyphs" >Glucose</text>
<text transform="translate(11.00,506.50) rotate(-90)" x="0" y="0" style="font-family:'Liberation Sans',sans-serif;font-weight:bold;stroke:#111;stroke-width:0.35px;font-size:11.5px" text-anchor="middle" dominant-baseline="central" fill="#111" textLength="108.00" lengthAdjust="spacingAndGlyphs">The relative reak area</text>
<text x="137.15" y="512.80" style="font-family:'Liberation Sans',sans-serif;stroke:#666;stroke-width:0.5px;font-size:16.5px" text-anchor="middle" fill="#666" textLength="6.50" lengthAdjust="spacingAndGlyphs" >*</text>
<text x="191.85" y="482.00" style="font-family:'Liberation Serif',serif;font-weight:bold;stroke:#111;stroke-width:0.25px;stroke:#333;stroke-width:0.5px;font-size:11px" text-anchor="middle" fill="#333" textLength="12.30" lengthAdjust="spacingAndGlyphs" >##</text>
<text transform="translate(234.21,427.63) scale(1.003,1)" x="0" y="0" style="font-family:'Liberation Sans',sans-serif;stroke:#000;stroke-width:0.6px;font-size:27.94px" fill="#000">f</text>
<rect x="283.30" y="512.75" width="35.50" height="49.65" fill="#0cbe0c" stroke="#111" stroke-width="1.5"/>
<line x1="301.05" y1="512.75" x2="301.05" y2="500.50" stroke="#111" stroke-width="1.7"/>
<line x1="291.55" y1="500.50" x2="310.55" y2="500.50" stroke="#111" stroke-width="1.8"/>
<line x1="301.05" y1="562.40" x2="301.05" y2="566.60" stroke="#111" stroke-width="1.5"/>
<text x="298.80" y="576.60" style="font-family:'Liberation Sans',sans-serif;font-weight:bold;stroke:#111;stroke-width:0.3px;font-size:10px" text-anchor="middle" fill="#111" textLength="33.60" lengthAdjust="spacingAndGlyphs" >control</text>
<rect x="337.30" y="486.20" width="35.10" height="76.20" fill="#ffff00" stroke="#111" stroke-width="1.5"/>
<line x1="354.85" y1="486.20" x2="354.85" y2="475.50" stroke="#111" stroke-width="1.7"/>
<line x1="345.20" y1="475.50" x2="364.50" y2="475.50" stroke="#111" stroke-width="1.8"/>
<line x1="354.85" y1="562.40" x2="354.85" y2="566.60" stroke="#111" stroke-width="1.5"/>
<text x="354.50" y="576.60" style="font-family:'Liberation Sans',sans-serif;font-weight:bold;stroke:#111;stroke-width:0.3px;font-size:10px" text-anchor="middle" fill="#111" textLength="28.80" lengthAdjust="spacingAndGlyphs" >model</text>
<rect x="391.20" y="513.80" width="35.10" height="48.60" fill="#a00000" stroke="#111" stroke-width="1.5"/>
<line x1="408.75" y1="513.80" x2="408.75" y2="495.00" stroke="#111" stroke-width="1.7"/>
<line x1="399.40" y1="495.00" x2="418.10" y2="495.00" stroke="#111" stroke-width="1.8"/>
<line x1="408.75" y1="562.40" x2="408.75" y2="566.60" stroke="#111" stroke-width="1.5"/>
<text x="408.45" y="576.60" style="font-family:'Liberation Sans',sans-serif;font-weight:bold;stroke:#111;stroke-width:0.3px;font-size:10px" text-anchor="middle" fill="#111" textLength="13.70" lengthAdjust="spacingAndGlyphs" >EA</text>
<line x1="273.50" y1="454.60" x2="273.50" y2="563.10" stroke="#111" stroke-width="1.6"/>
<line x1="272.80" y1="562.40" x2="435.00" y2="562.40" stroke="#111" stroke-width="1.6"/>
<line x1="270.00" y1="562.40" x2="273.50" y2="562.40" stroke="#111" stroke-width="1.3"/>
<text x="257.00" y="564.99" style="font-family:'Liberation Sans',sans-serif;font-weight:bold;stroke:#111;stroke-width:0.15px;font-size:7.2px" text-anchor="middle" fill="#111" textLength="25.00" lengthAdjust="spacingAndGlyphs" >0.0000</text>
<line x1="270.00" y1="540.84" x2="273.50" y2="540.84" stroke="#111" stroke-width="1.3"/>
<text x="257.00" y="543.43" style="font-family:'Liberation Sans',sans-serif;font-weight:bold;stroke:#111;stroke-width:0.15px;font-size:7.2px" text-anchor="middle" fill="#111" textLength="25.00" lengthAdjust="spacingAndGlyphs" >0.0002</text>
<line x1="270.00" y1="519.28" x2="273.50" y2="519.28" stroke="#111" stroke-width="1.3"/>
<text x="257.00" y="521.87" style="font-family:'Liberation Sans',sans-serif;font-weight:bold;stroke:#111;stroke-width:0.15px;font-size:7.2px" text-anchor="middle" fill="#111" textLength="25.00" lengthAdjust="spacingAndGlyphs" >0.0004</text>
<line x1="270.00" y1="497.72" x2="273.50" y2="497.72" stroke="#111" stroke-width="1.3"/>
<text x="257.00" y="500.31" style="font-family:'Liberation Sans',sans-serif;font-weight:bold;stroke:#111;stroke-width:0.15px;font-size:7.2px" text-anchor="middle" fill="#111" textLength="25.00" lengthAdjust="spacingAndGlyphs" >0.0006</text>
<line x1="270.00" y1="476.16" x2="273.50" y2="476.16" stroke="#111" stroke-width="1.3"/>
<text x="257.00" y="478.75" style="font-family:'Liberation Sans',sans-serif;font-weight:bold;stroke:#111;stroke-width:0.15px;font-size:7.2px" text-anchor="middle" fill="#111" textLength="25.00" lengthAdjust="spacingAndGlyphs" >0.0008</text>
<line x1="270.00" y1="454.60" x2="273.50" y2="454.60" stroke="#111" stroke-width="1.3"/>
<text x="257.00" y="457.19" style="font-family:'Liberation Sans',sans-serif;font-weight:bold;stroke:#111;stroke-width:0.15px;font-size:7.2px" text-anchor="middle" fill="#111" textLength="25.00" lengthAdjust="spacingAndGlyphs" >0.0010</text>
<text x="343.30" y="438.00" style="font-family:'Liberation Sans',sans-serif;font-weight:bold;stroke:#111;stroke-width:0.3px;font-size:10.3px" text-anchor="middle" fill="#111" textLength="36.80" lengthAdjust="spacingAndGlyphs" >Alanine</text>
<text transform="translate(236.90,507.90) rotate(-90)" x="0" y="0" style="font-family:'Liberation Sans',sans-serif;font-weight:bold;stroke:#111;stroke-width:0.35px;font-size:10px" text-anchor="middle" dominant-baseline="central" fill="#111" textLength="109.00" lengthAdjust="spacingAndGlyphs">The relative reak area</text>
<text x="350.00" y="471.00" style="font-family:'Liberation Sans',sans-serif;stroke:#888;stroke-width:0.5px;font-size:15px" text-anchor="middle" fill="#888" textLength="6.00" lengthAdjust="spacingAndGlyphs" >*</text>
<text x="361.20" y="471.00" style="font-family:'Liberation Sans',sans-serif;stroke:#888;stroke-width:0.5px;font-size:15px" text-anchor="middle" fill="#888" textLength="6.00" lengthAdjust="spacingAndGlyphs" >*</text>
<text x="408.30" y="486.00" style="font-family:'Liberation Serif',serif;font-weight:bold;stroke:#111;stroke-width:0.25px;stroke:#666;stroke-width:0.5px;font-size:8px" text-anchor="middle" fill="#666" textLength="5.00" lengthAdjust="spacingAndGlyphs" >#</text>
<text transform="translate(449.34,411.29) scale(0.896,1)" x="0" y="0" style="font-family:'Liberation Sans',sans-serif;stroke:#000;stroke-width:1.2px;font-size:28.09px" fill="#000">g</text>
<rect x="501.00" y="476.00" width="41.00" height="85.30" fill="#107c10" stroke="#111" stroke-width="1.5"/>
<line x1="521.50" y1="476.00" x2="521.50" y2="469.00" stroke="#111" stroke-width="1.7"/>
<line x1="510.70" y1="469.00" x2="532.30" y2="469.00" stroke="#111" stroke-width="1.8"/>
<line x1="521.50" y1="561.30" x2="521.50" y2="565.50" stroke="#111" stroke-width="1.5"/>
<text x="519.25" y="578.40" style="font-family:'Liberation Sans',sans-serif;font-weight:bold;stroke:#111;stroke-width:0.3px;font-size:11.5px" text-anchor="middle" fill="#111" textLength="38.70" lengthAdjust="spacingAndGlyphs" >control</text>
<rect x="564.00" y="462.80" width="41.00" height="98.50" fill="#ffff00" stroke="#111" stroke-width="1.5"/>
<line x1="584.50" y1="462.80" x2="584.50" y2="449.40" stroke="#111" stroke-width="1.7"/>
<line x1="573.50" y1="449.40" x2="595.50" y2="449.40" stroke="#111" stroke-width="1.8"/>
<line x1="584.50" y1="561.30" x2="584.50" y2="565.50" stroke="#111" stroke-width="1.5"/>
<text x="583.50" y="578.40" style="font-family:'Liberation Sans',sans-serif;font-weight:bold;stroke:#111;stroke-width:0.3px;font-size:11.5px" text-anchor="middle" fill="#111" textLength="34.40" lengthAdjust="spacingAndGlyphs" >model</text>
<rect x="627.30" y="488.20" width="40.70" height="73.10" fill="#a00000" stroke="#111" stroke-width="1.5"/>
<line x1="647.65" y1="488.20" x2="647.65" y2="477.20" stroke="#111" stroke-width="1.7"/>
<line x1="637.15" y1="477.20" x2="658.15" y2="477.20" stroke="#111" stroke-width="1.8"/>
<line x1="647.65" y1="561.30" x2="647.65" y2="565.50" stroke="#111" stroke-width="1.5"/>
<text x="647.05" y="578.40" style="font-family:'Liberation Sans',sans-serif;font-weight:bold;stroke:#111;stroke-width:0.3px;font-size:11.5px" text-anchor="middle" fill="#111" textLength="14.70" lengthAdjust="spacingAndGlyphs" >EA</text>
<line x1="489.50" y1="435.10" x2="489.50" y2="562.00" stroke="#111" stroke-width="1.6"/>
<line x1="488.80" y1="561.30" x2="679.00" y2="561.30" stroke="#111" stroke-width="1.6"/>
<line x1="486.00" y1="561.30" x2="489.50" y2="561.30" stroke="#111" stroke-width="1.3"/>
<text x="469.60" y="564.47" style="font-family:'Liberation Sans',sans-serif;font-weight:bold;stroke:#111;stroke-width:0.15px;font-size:8.8px" text-anchor="middle" fill="#111" textLength="28.60" lengthAdjust="spacingAndGlyphs" >0.0000</text>
<line x1="486.00" y1="519.23" x2="489.50" y2="519.23" stroke="#111" stroke-width="1.3"/>
<text x="469.60" y="522.40" style="font-family:'Liberation Sans',sans-serif;font-weight:bold;stroke:#111;stroke-width:0.15px;font-size:8.8px" text-anchor="middle" fill="#111" textLength="28.60" lengthAdjust="spacingAndGlyphs" >0.0005</text>
<line x1="486.00" y1="477.17" x2="489.50" y2="477.17" stroke="#111" stroke-width="1.3"/>
<text x="469.60" y="480.33" style="font-family:'Liberation Sans',sans-serif;font-weight:bold;stroke:#111;stroke-width:0.15px;font-size:8.8px" text-anchor="middle" fill="#111" textLength="28.60" lengthAdjust="spacingAndGlyphs" >0.0010</text>
<line x1="486.00" y1="435.10" x2="489.50" y2="435.10" stroke="#111" stroke-width="1.3"/>
<text x="469.60" y="438.27" style="font-family:'Liberation Sans',sans-serif;font-weight:bold;stroke:#111;stroke-width:0.15px;font-size:8.8px" text-anchor="middle" fill="#111" textLength="28.60" lengthAdjust="spacingAndGlyphs" >0.0015</text>
<text x="581.75" y="430.30" style="font-family:'Liberation Sans',sans-serif;font-weight:bold;stroke:#111;stroke-width:0.3px;font-size:10.8px" text-anchor="middle" fill="#111" textLength="31.70" lengthAdjust="spacingAndGlyphs" >Valine</text>
<text transform="translate(447.80,496.30) rotate(-90)" x="0" y="0" style="font-family:'Liberation Sans',sans-serif;font-weight:bold;stroke:#111;stroke-width:0.35px;font-size:12.3px" text-anchor="middle" dominant-baseline="central" fill="#111" textLength="127.00" lengthAdjust="spacingAndGlyphs">The relative reak area</text>
<text x="585.90" y="446.00" style="font-family:'Liberation Sans',sans-serif;stroke:#555;stroke-width:0.5px;font-size:16px" text-anchor="middle" fill="#555" textLength="6.80" lengthAdjust="spacingAndGlyphs" >*</text>
<text x="647.85" y="467.90" style="font-family:'Liberation Serif',serif;font-weight:bold;stroke:#111;stroke-width:0.25px;stroke:#555;stroke-width:0.5px;font-size:9.5px" text-anchor="middle" fill="#555" textLength="5.70" lengthAdjust="spacingAndGlyphs" >#</text>
</svg></body></html>
